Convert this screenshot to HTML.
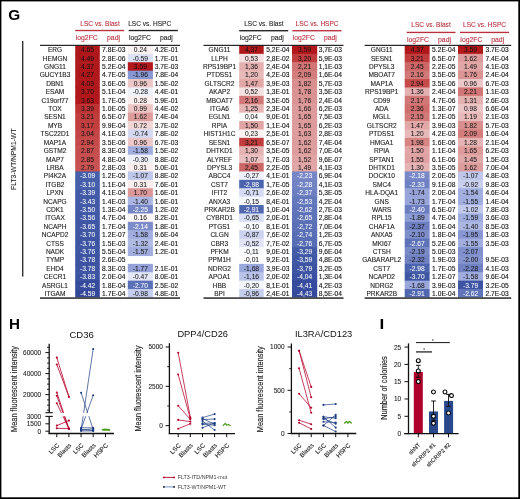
<!DOCTYPE html>
<html><head><meta charset="utf-8"><title>Figure</title>
<style>
html,body{margin:0;padding:0;background:#fff;}
body{width:520px;height:499px;overflow:hidden;font-family:"Liberation Sans", sans-serif;}
svg{display:block;will-change:transform;font-family:"Liberation Sans", sans-serif;}
</style></head>
<body>
<svg width="520" height="499" viewBox="0 0 520 499">
<rect x="0" y="0" width="520" height="499" fill="#fff"/>
<rect x="75.2" y="45.45" width="24.6" height="9" fill="#ae181b"/>
<rect x="127.8" y="45.45" width="25.1" height="9" fill="#faf1f1"/>
<rect x="75.2" y="53.85" width="24.6" height="9" fill="#af181b"/>
<rect x="127.8" y="53.85" width="25.1" height="9" fill="#dce1f4"/>
<rect x="75.2" y="62.25" width="24.6" height="9" fill="#af181b"/>
<rect x="127.8" y="62.25" width="25.1" height="9" fill="#b2181b"/>
<rect x="75.2" y="70.65" width="24.6" height="9" fill="#af181b"/>
<rect x="127.8" y="70.65" width="25.1" height="9" fill="#8797d1"/>
<rect x="75.2" y="79.05" width="24.6" height="9" fill="#b0181b"/>
<rect x="127.8" y="79.05" width="25.1" height="9" fill="#ecc7c7"/>
<rect x="75.2" y="87.45" width="24.6" height="9" fill="#b1181b"/>
<rect x="127.8" y="87.45" width="25.1" height="9" fill="#eef1fa"/>
<rect x="75.2" y="95.85" width="24.6" height="9" fill="#b2181b"/>
<rect x="127.8" y="95.85" width="25.1" height="9" fill="#faefef"/>
<rect x="75.2" y="104.25" width="24.6" height="9" fill="#be3234"/>
<rect x="127.8" y="104.25" width="25.1" height="9" fill="#ecc5c5"/>
<rect x="75.2" y="112.65" width="24.6" height="9" fill="#c13c3d"/>
<rect x="127.8" y="112.65" width="25.1" height="9" fill="#de9d9d"/>
<rect x="75.2" y="121.05" width="24.6" height="9" fill="#c23e3f"/>
<rect x="127.8" y="121.05" width="25.1" height="9" fill="#f1d6d6"/>
<rect x="75.2" y="129.45" width="24.6" height="9" fill="#c44546"/>
<rect x="127.8" y="129.45" width="25.1" height="9" fill="#d3d9f1"/>
<rect x="75.2" y="137.85" width="24.6" height="9" fill="#c64a4a"/>
<rect x="127.8" y="137.85" width="25.1" height="9" fill="#ecc7c7"/>
<rect x="75.2" y="146.25" width="24.6" height="9" fill="#c74e4e"/>
<rect x="127.8" y="146.25" width="25.1" height="9" fill="#a0adde"/>
<rect x="75.2" y="154.65" width="24.6" height="9" fill="#c74f4f"/>
<rect x="127.8" y="154.65" width="25.1" height="9" fill="#edf0f9"/>
<rect x="75.2" y="163.05" width="24.6" height="9" fill="#c85252"/>
<rect x="127.8" y="163.05" width="25.1" height="9" fill="#f9eded"/>
<rect x="75.2" y="171.45" width="24.6" height="9" fill="#465faa"/>
<rect x="127.8" y="171.45" width="25.1" height="9" fill="#bfc8ea"/>
<rect x="75.2" y="179.85" width="24.6" height="9" fill="#465faa"/>
<rect x="127.8" y="179.85" width="25.1" height="9" fill="#f9eded"/>
<rect x="75.2" y="188.25" width="24.6" height="9" fill="#425aa7"/>
<rect x="127.8" y="188.25" width="25.1" height="9" fill="#dc9898"/>
<rect x="75.2" y="196.65" width="24.6" height="9" fill="#425aa6"/>
<rect x="127.8" y="196.65" width="25.1" height="9" fill="#abb6e2"/>
<rect x="75.2" y="205.05" width="24.6" height="9" fill="#4159a6"/>
<rect x="127.8" y="205.05" width="25.1" height="9" fill="#7485c5"/>
<rect x="75.2" y="213.45" width="24.6" height="9" fill="#4058a5"/>
<rect x="127.8" y="213.45" width="25.1" height="9" fill="#fcf6f6"/>
<rect x="75.2" y="221.85" width="24.6" height="9" fill="#3f56a4"/>
<rect x="127.8" y="221.85" width="25.1" height="9" fill="#7c8cca"/>
<rect x="75.2" y="230.25" width="24.6" height="9" fill="#3f56a3"/>
<rect x="127.8" y="230.25" width="25.1" height="9" fill="#a0adde"/>
<rect x="75.2" y="238.65" width="24.6" height="9" fill="#3e55a3"/>
<rect x="127.8" y="238.65" width="25.1" height="9" fill="#b0bbe4"/>
<rect x="75.2" y="247.05" width="24.6" height="9" fill="#3e55a3"/>
<rect x="127.8" y="247.05" width="25.1" height="9" fill="#a0adde"/>
<rect x="75.2" y="255.45" width="24.6" height="9" fill="#3e54a3"/>
<rect x="75.2" y="263.85" width="24.6" height="9" fill="#3e54a3"/>
<rect x="127.8" y="263.85" width="25.1" height="9" fill="#94a2d9"/>
<rect x="75.2" y="272.25" width="24.6" height="9" fill="#3d54a2"/>
<rect x="127.8" y="272.25" width="25.1" height="9" fill="#e3e7f6"/>
<rect x="75.2" y="280.65" width="24.6" height="9" fill="#364b9c"/>
<rect x="127.8" y="280.65" width="25.1" height="9" fill="#5b70b6"/>
<rect x="75.2" y="289.05" width="24.6" height="8.4" fill="#34489a"/>
<rect x="127.8" y="289.05" width="25.1" height="8.4" fill="#c4cded"/>
<text transform="translate(55,52.2) scale(0.96,1)" font-size="6.85" fill="#1e1e1e" text-anchor="middle" stroke="#1e1e1e" stroke-width="0.12">ERG</text>
<text transform="translate(87.5,52.2) scale(0.975,1)" font-size="6.85" fill="#141414" text-anchor="middle" stroke="#141414" stroke-width="0.04">4.65</text>
<text transform="translate(113.8,52.2) scale(0.975,1)" font-size="6.85" fill="#141414" text-anchor="middle" stroke="#141414" stroke-width="0.12">7.8E-03</text>
<text transform="translate(140.35,52.2) scale(0.975,1)" font-size="6.85" fill="#141414" text-anchor="middle" stroke="#141414" stroke-width="0.04">0.24</text>
<text transform="translate(166.45,52.2) scale(0.975,1)" font-size="6.85" fill="#141414" text-anchor="middle" stroke="#141414" stroke-width="0.12">4.2E-01</text>
<text transform="translate(55,60.61) scale(0.96,1)" font-size="6.85" fill="#1e1e1e" text-anchor="middle" stroke="#1e1e1e" stroke-width="0.12">HEMGN</text>
<text transform="translate(87.5,60.61) scale(0.975,1)" font-size="6.85" fill="#141414" text-anchor="middle" stroke="#141414" stroke-width="0.04">4.49</text>
<text transform="translate(113.8,60.61) scale(0.975,1)" font-size="6.85" fill="#141414" text-anchor="middle" stroke="#141414" stroke-width="0.12">2.8E-06</text>
<text transform="translate(140.35,60.61) scale(0.975,1)" font-size="6.85" fill="#141414" text-anchor="middle" stroke="#141414" stroke-width="0.04">-0.59</text>
<text transform="translate(166.45,60.61) scale(0.975,1)" font-size="6.85" fill="#141414" text-anchor="middle" stroke="#141414" stroke-width="0.12">1.7E-01</text>
<text transform="translate(55,69.02) scale(0.96,1)" font-size="6.85" fill="#1e1e1e" text-anchor="middle" stroke="#1e1e1e" stroke-width="0.12">GNG11</text>
<text transform="translate(87.5,69.02) scale(0.975,1)" font-size="6.85" fill="#141414" text-anchor="middle" stroke="#141414" stroke-width="0.04">4.37</text>
<text transform="translate(113.8,69.02) scale(0.975,1)" font-size="6.85" fill="#141414" text-anchor="middle" stroke="#141414" stroke-width="0.12">5.2E-04</text>
<text transform="translate(140.35,69.02) scale(0.975,1)" font-size="6.85" fill="#141414" text-anchor="middle" stroke="#141414" stroke-width="0.04">3.59</text>
<text transform="translate(166.45,69.02) scale(0.975,1)" font-size="6.85" fill="#141414" text-anchor="middle" stroke="#141414" stroke-width="0.12">3.7E-03</text>
<text transform="translate(55,77.43) scale(0.96,1)" font-size="6.85" fill="#1e1e1e" text-anchor="middle" stroke="#1e1e1e" stroke-width="0.12">GUCY1B3</text>
<text transform="translate(87.5,77.43) scale(0.975,1)" font-size="6.85" fill="#141414" text-anchor="middle" stroke="#141414" stroke-width="0.04">4.27</text>
<text transform="translate(113.8,77.43) scale(0.975,1)" font-size="6.85" fill="#141414" text-anchor="middle" stroke="#141414" stroke-width="0.12">4.7E-05</text>
<text transform="translate(140.35,77.43) scale(0.975,1)" font-size="6.85" fill="#141414" text-anchor="middle" stroke="#141414" stroke-width="0.04">-1.96</text>
<text transform="translate(166.45,77.43) scale(0.975,1)" font-size="6.85" fill="#141414" text-anchor="middle" stroke="#141414" stroke-width="0.12">7.8E-04</text>
<text transform="translate(55,85.84) scale(0.96,1)" font-size="6.85" fill="#1e1e1e" text-anchor="middle" stroke="#1e1e1e" stroke-width="0.12">DBN1</text>
<text transform="translate(87.5,85.84) scale(0.975,1)" font-size="6.85" fill="#141414" text-anchor="middle" stroke="#141414" stroke-width="0.04">4.03</text>
<text transform="translate(113.8,85.84) scale(0.975,1)" font-size="6.85" fill="#141414" text-anchor="middle" stroke="#141414" stroke-width="0.12">3.6E-05</text>
<text transform="translate(140.35,85.84) scale(0.975,1)" font-size="6.85" fill="#141414" text-anchor="middle" stroke="#141414" stroke-width="0.04">0.96</text>
<text transform="translate(166.45,85.84) scale(0.975,1)" font-size="6.85" fill="#141414" text-anchor="middle" stroke="#141414" stroke-width="0.12">1.5E-02</text>
<text transform="translate(55,94.25) scale(0.96,1)" font-size="6.85" fill="#1e1e1e" text-anchor="middle" stroke="#1e1e1e" stroke-width="0.12">ESAM</text>
<text transform="translate(87.5,94.25) scale(0.975,1)" font-size="6.85" fill="#141414" text-anchor="middle" stroke="#141414" stroke-width="0.04">3.70</text>
<text transform="translate(113.8,94.25) scale(0.975,1)" font-size="6.85" fill="#141414" text-anchor="middle" stroke="#141414" stroke-width="0.12">5.1E-04</text>
<text transform="translate(140.35,94.25) scale(0.975,1)" font-size="6.85" fill="#141414" text-anchor="middle" stroke="#141414" stroke-width="0.04">-0.28</text>
<text transform="translate(166.45,94.25) scale(0.975,1)" font-size="6.85" fill="#141414" text-anchor="middle" stroke="#141414" stroke-width="0.12">4.4E-01</text>
<text transform="translate(55,102.66) scale(0.96,1)" font-size="6.85" fill="#1e1e1e" text-anchor="middle" stroke="#1e1e1e" stroke-width="0.12">C19orf77</text>
<text transform="translate(87.5,102.66) scale(0.975,1)" font-size="6.85" fill="#141414" text-anchor="middle" stroke="#141414" stroke-width="0.04">3.63</text>
<text transform="translate(113.8,102.66) scale(0.975,1)" font-size="6.85" fill="#141414" text-anchor="middle" stroke="#141414" stroke-width="0.12">1.7E-05</text>
<text transform="translate(140.35,102.66) scale(0.975,1)" font-size="6.85" fill="#141414" text-anchor="middle" stroke="#141414" stroke-width="0.04">0.28</text>
<text transform="translate(166.45,102.66) scale(0.975,1)" font-size="6.85" fill="#141414" text-anchor="middle" stroke="#141414" stroke-width="0.12">5.9E-01</text>
<text transform="translate(55,111.07) scale(0.96,1)" font-size="6.85" fill="#1e1e1e" text-anchor="middle" stroke="#1e1e1e" stroke-width="0.12">TOX</text>
<text transform="translate(87.5,111.07) scale(0.975,1)" font-size="6.85" fill="#141414" text-anchor="middle" stroke="#141414" stroke-width="0.04">3.39</text>
<text transform="translate(113.8,111.07) scale(0.975,1)" font-size="6.85" fill="#141414" text-anchor="middle" stroke="#141414" stroke-width="0.12">1.0E-05</text>
<text transform="translate(140.35,111.07) scale(0.975,1)" font-size="6.85" fill="#141414" text-anchor="middle" stroke="#141414" stroke-width="0.04">0.99</text>
<text transform="translate(166.45,111.07) scale(0.975,1)" font-size="6.85" fill="#141414" text-anchor="middle" stroke="#141414" stroke-width="0.12">4.4E-02</text>
<text transform="translate(55,119.48) scale(0.96,1)" font-size="6.85" fill="#1e1e1e" text-anchor="middle" stroke="#1e1e1e" stroke-width="0.12">SESN1</text>
<text transform="translate(87.5,119.48) scale(0.975,1)" font-size="6.85" fill="#141414" text-anchor="middle" stroke="#141414" stroke-width="0.04">3.21</text>
<text transform="translate(113.8,119.48) scale(0.975,1)" font-size="6.85" fill="#141414" text-anchor="middle" stroke="#141414" stroke-width="0.12">6.5E-07</text>
<text transform="translate(140.35,119.48) scale(0.975,1)" font-size="6.85" fill="#141414" text-anchor="middle" stroke="#141414" stroke-width="0.04">1.62</text>
<text transform="translate(166.45,119.48) scale(0.975,1)" font-size="6.85" fill="#141414" text-anchor="middle" stroke="#141414" stroke-width="0.12">7.4E-04</text>
<text transform="translate(55,127.89) scale(0.96,1)" font-size="6.85" fill="#1e1e1e" text-anchor="middle" stroke="#1e1e1e" stroke-width="0.12">MYB</text>
<text transform="translate(87.5,127.89) scale(0.975,1)" font-size="6.85" fill="#141414" text-anchor="middle" stroke="#141414" stroke-width="0.04">3.17</text>
<text transform="translate(113.8,127.89) scale(0.975,1)" font-size="6.85" fill="#141414" text-anchor="middle" stroke="#141414" stroke-width="0.12">9.9E-04</text>
<text transform="translate(140.35,127.89) scale(0.975,1)" font-size="6.85" fill="#141414" text-anchor="middle" stroke="#141414" stroke-width="0.04">0.72</text>
<text transform="translate(166.45,127.89) scale(0.975,1)" font-size="6.85" fill="#141414" text-anchor="middle" stroke="#141414" stroke-width="0.12">3.7E-02</text>
<text transform="translate(55,136.3) scale(0.96,1)" font-size="6.85" fill="#1e1e1e" text-anchor="middle" stroke="#1e1e1e" stroke-width="0.12">TSC22D1</text>
<text transform="translate(87.5,136.3) scale(0.975,1)" font-size="6.85" fill="#141414" text-anchor="middle" stroke="#141414" stroke-width="0.04">3.04</text>
<text transform="translate(113.8,136.3) scale(0.975,1)" font-size="6.85" fill="#141414" text-anchor="middle" stroke="#141414" stroke-width="0.12">4.1E-03</text>
<text transform="translate(140.35,136.3) scale(0.975,1)" font-size="6.85" fill="#141414" text-anchor="middle" stroke="#141414" stroke-width="0.04">-0.74</text>
<text transform="translate(166.45,136.3) scale(0.975,1)" font-size="6.85" fill="#141414" text-anchor="middle" stroke="#141414" stroke-width="0.12">7.8E-02</text>
<text transform="translate(55,144.71) scale(0.96,1)" font-size="6.85" fill="#1e1e1e" text-anchor="middle" stroke="#1e1e1e" stroke-width="0.12">MAP1A</text>
<text transform="translate(87.5,144.71) scale(0.975,1)" font-size="6.85" fill="#141414" text-anchor="middle" stroke="#141414" stroke-width="0.04">2.94</text>
<text transform="translate(113.8,144.71) scale(0.975,1)" font-size="6.85" fill="#141414" text-anchor="middle" stroke="#141414" stroke-width="0.12">3.5E-06</text>
<text transform="translate(140.35,144.71) scale(0.975,1)" font-size="6.85" fill="#141414" text-anchor="middle" stroke="#141414" stroke-width="0.04">0.96</text>
<text transform="translate(166.45,144.71) scale(0.975,1)" font-size="6.85" fill="#141414" text-anchor="middle" stroke="#141414" stroke-width="0.12">6.7E-03</text>
<text transform="translate(55,153.12) scale(0.96,1)" font-size="6.85" fill="#1e1e1e" text-anchor="middle" stroke="#1e1e1e" stroke-width="0.12">GSTM2</text>
<text transform="translate(87.5,153.12) scale(0.975,1)" font-size="6.85" fill="#141414" text-anchor="middle" stroke="#141414" stroke-width="0.04">2.87</text>
<text transform="translate(113.8,153.12) scale(0.975,1)" font-size="6.85" fill="#141414" text-anchor="middle" stroke="#141414" stroke-width="0.12">8.3E-03</text>
<text transform="translate(140.35,153.12) scale(0.975,1)" font-size="6.85" fill="#141414" text-anchor="middle" stroke="#141414" stroke-width="0.04">-1.58</text>
<text transform="translate(166.45,153.12) scale(0.975,1)" font-size="6.85" fill="#141414" text-anchor="middle" stroke="#141414" stroke-width="0.12">1.5E-02</text>
<text transform="translate(55,161.53) scale(0.96,1)" font-size="6.85" fill="#1e1e1e" text-anchor="middle" stroke="#1e1e1e" stroke-width="0.12">MAP7</text>
<text transform="translate(87.5,161.53) scale(0.975,1)" font-size="6.85" fill="#141414" text-anchor="middle" stroke="#141414" stroke-width="0.04">2.85</text>
<text transform="translate(113.8,161.53) scale(0.975,1)" font-size="6.85" fill="#141414" text-anchor="middle" stroke="#141414" stroke-width="0.12">4.8E-04</text>
<text transform="translate(140.35,161.53) scale(0.975,1)" font-size="6.85" fill="#141414" text-anchor="middle" stroke="#141414" stroke-width="0.04">-0.30</text>
<text transform="translate(166.45,161.53) scale(0.975,1)" font-size="6.85" fill="#141414" text-anchor="middle" stroke="#141414" stroke-width="0.12">8.8E-02</text>
<text transform="translate(55,169.94) scale(0.96,1)" font-size="6.85" fill="#1e1e1e" text-anchor="middle" stroke="#1e1e1e" stroke-width="0.12">LRBA</text>
<text transform="translate(87.5,169.94) scale(0.975,1)" font-size="6.85" fill="#141414" text-anchor="middle" stroke="#141414" stroke-width="0.04">2.79</text>
<text transform="translate(113.8,169.94) scale(0.975,1)" font-size="6.85" fill="#141414" text-anchor="middle" stroke="#141414" stroke-width="0.12">2.8E-03</text>
<text transform="translate(140.35,169.94) scale(0.975,1)" font-size="6.85" fill="#141414" text-anchor="middle" stroke="#141414" stroke-width="0.04">0.31</text>
<text transform="translate(166.45,169.94) scale(0.975,1)" font-size="6.85" fill="#141414" text-anchor="middle" stroke="#141414" stroke-width="0.12">5.0E-01</text>
<text transform="translate(55,178.35) scale(0.96,1)" font-size="6.85" fill="#1e1e1e" text-anchor="middle" stroke="#1e1e1e" stroke-width="0.12">PI4K2A</text>
<text transform="translate(87.5,178.35) scale(0.975,1)" font-size="6.85" fill="#fff" text-anchor="middle" stroke="#fff" stroke-width="0.04">-3.09</text>
<text transform="translate(113.8,178.35) scale(0.975,1)" font-size="6.85" fill="#141414" text-anchor="middle" stroke="#141414" stroke-width="0.12">1.2E-05</text>
<text transform="translate(140.35,178.35) scale(0.975,1)" font-size="6.85" fill="#141414" text-anchor="middle" stroke="#141414" stroke-width="0.04">-1.07</text>
<text transform="translate(166.45,178.35) scale(0.975,1)" font-size="6.85" fill="#141414" text-anchor="middle" stroke="#141414" stroke-width="0.12">8.8E-02</text>
<text transform="translate(55,186.76) scale(0.96,1)" font-size="6.85" fill="#1e1e1e" text-anchor="middle" stroke="#1e1e1e" stroke-width="0.12">ITGB2</text>
<text transform="translate(87.5,186.76) scale(0.975,1)" font-size="6.85" fill="#fff" text-anchor="middle" stroke="#fff" stroke-width="0.04">-3.10</text>
<text transform="translate(113.8,186.76) scale(0.975,1)" font-size="6.85" fill="#141414" text-anchor="middle" stroke="#141414" stroke-width="0.12">1.1E-04</text>
<text transform="translate(140.35,186.76) scale(0.975,1)" font-size="6.85" fill="#141414" text-anchor="middle" stroke="#141414" stroke-width="0.04">0.31</text>
<text transform="translate(166.45,186.76) scale(0.975,1)" font-size="6.85" fill="#141414" text-anchor="middle" stroke="#141414" stroke-width="0.12">7.6E-01</text>
<text transform="translate(55,195.17) scale(0.96,1)" font-size="6.85" fill="#1e1e1e" text-anchor="middle" stroke="#1e1e1e" stroke-width="0.12">LPXN</text>
<text transform="translate(87.5,195.17) scale(0.975,1)" font-size="6.85" fill="#fff" text-anchor="middle" stroke="#fff" stroke-width="0.04">-3.39</text>
<text transform="translate(113.8,195.17) scale(0.975,1)" font-size="6.85" fill="#141414" text-anchor="middle" stroke="#141414" stroke-width="0.12">4.1E-04</text>
<text transform="translate(140.35,195.17) scale(0.975,1)" font-size="6.85" fill="#141414" text-anchor="middle" stroke="#141414" stroke-width="0.04">1.70</text>
<text transform="translate(166.45,195.17) scale(0.975,1)" font-size="6.85" fill="#141414" text-anchor="middle" stroke="#141414" stroke-width="0.12">1.6E-01</text>
<text transform="translate(55,203.58) scale(0.96,1)" font-size="6.85" fill="#1e1e1e" text-anchor="middle" stroke="#1e1e1e" stroke-width="0.12">NCAPG</text>
<text transform="translate(87.5,203.58) scale(0.975,1)" font-size="6.85" fill="#fff" text-anchor="middle" stroke="#fff" stroke-width="0.04">-3.43</text>
<text transform="translate(113.8,203.58) scale(0.975,1)" font-size="6.85" fill="#141414" text-anchor="middle" stroke="#141414" stroke-width="0.12">1.4E-03</text>
<text transform="translate(140.35,203.58) scale(0.975,1)" font-size="6.85" fill="#141414" text-anchor="middle" stroke="#141414" stroke-width="0.04">-1.40</text>
<text transform="translate(166.45,203.58) scale(0.975,1)" font-size="6.85" fill="#141414" text-anchor="middle" stroke="#141414" stroke-width="0.12">1.6E-01</text>
<text transform="translate(55,211.99) scale(0.96,1)" font-size="6.85" fill="#1e1e1e" text-anchor="middle" stroke="#1e1e1e" stroke-width="0.12">CDK1</text>
<text transform="translate(87.5,211.99) scale(0.975,1)" font-size="6.85" fill="#fff" text-anchor="middle" stroke="#fff" stroke-width="0.04">-3.50</text>
<text transform="translate(113.8,211.99) scale(0.975,1)" font-size="6.85" fill="#141414" text-anchor="middle" stroke="#141414" stroke-width="0.12">1.3E-04</text>
<text transform="translate(140.35,211.99) scale(0.975,1)" font-size="6.85" fill="#fff" text-anchor="middle" stroke="#fff" stroke-width="0.04">-2.25</text>
<text transform="translate(166.45,211.99) scale(0.975,1)" font-size="6.85" fill="#141414" text-anchor="middle" stroke="#141414" stroke-width="0.12">1.2E-02</text>
<text transform="translate(55,220.4) scale(0.96,1)" font-size="6.85" fill="#1e1e1e" text-anchor="middle" stroke="#1e1e1e" stroke-width="0.12">ITGAX</text>
<text transform="translate(87.5,220.4) scale(0.975,1)" font-size="6.85" fill="#fff" text-anchor="middle" stroke="#fff" stroke-width="0.04">-3.56</text>
<text transform="translate(113.8,220.4) scale(0.975,1)" font-size="6.85" fill="#141414" text-anchor="middle" stroke="#141414" stroke-width="0.12">4.7E-04</text>
<text transform="translate(140.35,220.4) scale(0.975,1)" font-size="6.85" fill="#141414" text-anchor="middle" stroke="#141414" stroke-width="0.04">0.16</text>
<text transform="translate(166.45,220.4) scale(0.975,1)" font-size="6.85" fill="#141414" text-anchor="middle" stroke="#141414" stroke-width="0.12">8.2E-01</text>
<text transform="translate(55,228.81) scale(0.96,1)" font-size="6.85" fill="#1e1e1e" text-anchor="middle" stroke="#1e1e1e" stroke-width="0.12">NCAPH</text>
<text transform="translate(87.5,228.81) scale(0.975,1)" font-size="6.85" fill="#fff" text-anchor="middle" stroke="#fff" stroke-width="0.04">-3.65</text>
<text transform="translate(113.8,228.81) scale(0.975,1)" font-size="6.85" fill="#141414" text-anchor="middle" stroke="#141414" stroke-width="0.12">1.7E-04</text>
<text transform="translate(140.35,228.81) scale(0.975,1)" font-size="6.85" fill="#fff" text-anchor="middle" stroke="#fff" stroke-width="0.04">-2.14</text>
<text transform="translate(166.45,228.81) scale(0.975,1)" font-size="6.85" fill="#141414" text-anchor="middle" stroke="#141414" stroke-width="0.12">1.8E-01</text>
<text transform="translate(55,237.22) scale(0.96,1)" font-size="6.85" fill="#1e1e1e" text-anchor="middle" stroke="#1e1e1e" stroke-width="0.12">NCAPD2</text>
<text transform="translate(87.5,237.22) scale(0.975,1)" font-size="6.85" fill="#fff" text-anchor="middle" stroke="#fff" stroke-width="0.04">-3.70</text>
<text transform="translate(113.8,237.22) scale(0.975,1)" font-size="6.85" fill="#141414" text-anchor="middle" stroke="#141414" stroke-width="0.12">1.2E-07</text>
<text transform="translate(140.35,237.22) scale(0.975,1)" font-size="6.85" fill="#141414" text-anchor="middle" stroke="#141414" stroke-width="0.04">-1.58</text>
<text transform="translate(166.45,237.22) scale(0.975,1)" font-size="6.85" fill="#141414" text-anchor="middle" stroke="#141414" stroke-width="0.12">9.6E-04</text>
<text transform="translate(55,245.63) scale(0.96,1)" font-size="6.85" fill="#1e1e1e" text-anchor="middle" stroke="#1e1e1e" stroke-width="0.12">CTSS</text>
<text transform="translate(87.5,245.63) scale(0.975,1)" font-size="6.85" fill="#fff" text-anchor="middle" stroke="#fff" stroke-width="0.04">-3.76</text>
<text transform="translate(113.8,245.63) scale(0.975,1)" font-size="6.85" fill="#141414" text-anchor="middle" stroke="#141414" stroke-width="0.12">1.5E-03</text>
<text transform="translate(140.35,245.63) scale(0.975,1)" font-size="6.85" fill="#141414" text-anchor="middle" stroke="#141414" stroke-width="0.04">-1.32</text>
<text transform="translate(166.45,245.63) scale(0.975,1)" font-size="6.85" fill="#141414" text-anchor="middle" stroke="#141414" stroke-width="0.12">2.4E-01</text>
<text transform="translate(55,254.04) scale(0.96,1)" font-size="6.85" fill="#1e1e1e" text-anchor="middle" stroke="#1e1e1e" stroke-width="0.12">NADK</text>
<text transform="translate(87.5,254.04) scale(0.975,1)" font-size="6.85" fill="#fff" text-anchor="middle" stroke="#fff" stroke-width="0.04">-3.76</text>
<text transform="translate(113.8,254.04) scale(0.975,1)" font-size="6.85" fill="#141414" text-anchor="middle" stroke="#141414" stroke-width="0.12">5.5E-04</text>
<text transform="translate(140.35,254.04) scale(0.975,1)" font-size="6.85" fill="#141414" text-anchor="middle" stroke="#141414" stroke-width="0.04">-1.57</text>
<text transform="translate(166.45,254.04) scale(0.975,1)" font-size="6.85" fill="#141414" text-anchor="middle" stroke="#141414" stroke-width="0.12">1.2E-01</text>
<text transform="translate(55,262.45) scale(0.96,1)" font-size="6.85" fill="#1e1e1e" text-anchor="middle" stroke="#1e1e1e" stroke-width="0.12">TYMP</text>
<text transform="translate(87.5,262.45) scale(0.975,1)" font-size="6.85" fill="#fff" text-anchor="middle" stroke="#fff" stroke-width="0.04">-3.78</text>
<text transform="translate(113.8,262.45) scale(0.975,1)" font-size="6.85" fill="#141414" text-anchor="middle" stroke="#141414" stroke-width="0.12">2.6E-05</text>
<text transform="translate(55,270.86) scale(0.96,1)" font-size="6.85" fill="#1e1e1e" text-anchor="middle" stroke="#1e1e1e" stroke-width="0.12">EHD4</text>
<text transform="translate(87.5,270.86) scale(0.975,1)" font-size="6.85" fill="#fff" text-anchor="middle" stroke="#fff" stroke-width="0.04">-3.78</text>
<text transform="translate(113.8,270.86) scale(0.975,1)" font-size="6.85" fill="#141414" text-anchor="middle" stroke="#141414" stroke-width="0.12">8.3E-03</text>
<text transform="translate(140.35,270.86) scale(0.975,1)" font-size="6.85" fill="#141414" text-anchor="middle" stroke="#141414" stroke-width="0.04">-1.77</text>
<text transform="translate(166.45,270.86) scale(0.975,1)" font-size="6.85" fill="#141414" text-anchor="middle" stroke="#141414" stroke-width="0.12">2.1E-01</text>
<text transform="translate(55,279.27) scale(0.96,1)" font-size="6.85" fill="#1e1e1e" text-anchor="middle" stroke="#1e1e1e" stroke-width="0.12">CECR1</text>
<text transform="translate(87.5,279.27) scale(0.975,1)" font-size="6.85" fill="#fff" text-anchor="middle" stroke="#fff" stroke-width="0.04">-3.83</text>
<text transform="translate(113.8,279.27) scale(0.975,1)" font-size="6.85" fill="#141414" text-anchor="middle" stroke="#141414" stroke-width="0.12">2.0E-04</text>
<text transform="translate(140.35,279.27) scale(0.975,1)" font-size="6.85" fill="#141414" text-anchor="middle" stroke="#141414" stroke-width="0.04">-0.47</text>
<text transform="translate(166.45,279.27) scale(0.975,1)" font-size="6.85" fill="#141414" text-anchor="middle" stroke="#141414" stroke-width="0.12">8.0E-01</text>
<text transform="translate(55,287.68) scale(0.96,1)" font-size="6.85" fill="#1e1e1e" text-anchor="middle" stroke="#1e1e1e" stroke-width="0.12">ASRGL1</text>
<text transform="translate(87.5,287.68) scale(0.975,1)" font-size="6.85" fill="#fff" text-anchor="middle" stroke="#fff" stroke-width="0.04">-4.42</text>
<text transform="translate(113.8,287.68) scale(0.975,1)" font-size="6.85" fill="#141414" text-anchor="middle" stroke="#141414" stroke-width="0.12">1.8E-04</text>
<text transform="translate(140.35,287.68) scale(0.975,1)" font-size="6.85" fill="#fff" text-anchor="middle" stroke="#fff" stroke-width="0.04">-2.70</text>
<text transform="translate(166.45,287.68) scale(0.975,1)" font-size="6.85" fill="#141414" text-anchor="middle" stroke="#141414" stroke-width="0.12">2.5E-02</text>
<text transform="translate(55,296.09) scale(0.96,1)" font-size="6.85" fill="#1e1e1e" text-anchor="middle" stroke="#1e1e1e" stroke-width="0.12">ITGAM</text>
<text transform="translate(87.5,296.09) scale(0.975,1)" font-size="6.85" fill="#fff" text-anchor="middle" stroke="#fff" stroke-width="0.04">-4.59</text>
<text transform="translate(113.8,296.09) scale(0.975,1)" font-size="6.85" fill="#141414" text-anchor="middle" stroke="#141414" stroke-width="0.12">1.7E-04</text>
<text transform="translate(140.35,296.09) scale(0.975,1)" font-size="6.85" fill="#141414" text-anchor="middle" stroke="#141414" stroke-width="0.04">-0.98</text>
<text transform="translate(166.45,296.09) scale(0.975,1)" font-size="6.85" fill="#141414" text-anchor="middle" stroke="#141414" stroke-width="0.12">4.8E-01</text>
<rect x="40" y="44.8" width="140" height="1.1" fill="#111"/>
<rect x="40" y="297.35" width="140" height="1.45" fill="#222"/>
<rect x="239.2" y="45.45" width="24.5" height="9" fill="#af181b"/>
<rect x="292" y="45.45" width="25.2" height="9" fill="#b2181b"/>
<rect x="239.2" y="53.85" width="24.5" height="9" fill="#f5e1e1"/>
<rect x="292" y="53.85" width="25.2" height="9" fill="#c13c3e"/>
<rect x="239.2" y="62.25" width="24.5" height="9" fill="#e4afaf"/>
<rect x="292" y="62.25" width="25.2" height="9" fill="#d17575"/>
<rect x="239.2" y="70.65" width="24.5" height="9" fill="#e7b9b9"/>
<rect x="292" y="70.65" width="25.2" height="9" fill="#d47d7d"/>
<rect x="239.2" y="79.05" width="24.5" height="9" fill="#e2a7a7"/>
<rect x="292" y="79.05" width="25.2" height="9" fill="#da8f8f"/>
<rect x="239.2" y="87.45" width="24.5" height="9" fill="#f5e2e2"/>
<rect x="292" y="87.45" width="25.2" height="9" fill="#db9292"/>
<rect x="239.2" y="95.85" width="24.5" height="9" fill="#d27878"/>
<rect x="292" y="95.85" width="25.2" height="9" fill="#db9494"/>
<rect x="239.2" y="104.25" width="24.5" height="9" fill="#e6b6b6"/>
<rect x="292" y="104.25" width="25.2" height="9" fill="#dd9a9a"/>
<rect x="239.2" y="112.65" width="24.5" height="9" fill="#fefdfd"/>
<rect x="292" y="112.65" width="25.2" height="9" fill="#dd9b9b"/>
<rect x="239.2" y="121.05" width="24.5" height="9" fill="#e1a5a5"/>
<rect x="292" y="121.05" width="25.2" height="9" fill="#dd9b9b"/>
<rect x="239.2" y="129.45" width="24.5" height="9" fill="#fbf2f2"/>
<rect x="292" y="129.45" width="25.2" height="9" fill="#de9c9c"/>
<rect x="239.2" y="137.85" width="24.5" height="9" fill="#c13c3d"/>
<rect x="292" y="137.85" width="25.2" height="9" fill="#de9d9d"/>
<rect x="239.2" y="146.25" width="24.5" height="9" fill="#e5b3b3"/>
<rect x="292" y="146.25" width="25.2" height="9" fill="#de9d9d"/>
<rect x="239.2" y="154.65" width="24.5" height="9" fill="#eac0c0"/>
<rect x="292" y="154.65" width="25.2" height="9" fill="#e0a4a4"/>
<rect x="239.2" y="163.05" width="24.5" height="9" fill="#cd6767"/>
<rect x="292" y="163.05" width="25.2" height="9" fill="#e1a6a6"/>
<rect x="239.2" y="171.45" width="24.5" height="9" fill="#eff1fa"/>
<rect x="292" y="171.45" width="25.2" height="9" fill="#7686c6"/>
<rect x="239.2" y="179.85" width="24.5" height="9" fill="#4c64ad"/>
<rect x="292" y="179.85" width="25.2" height="9" fill="#7283c4"/>
<rect x="239.2" y="188.25" width="24.5" height="9" fill="#d5dbf2"/>
<rect x="292" y="188.25" width="25.2" height="9" fill="#6d7fc1"/>
<rect x="239.2" y="196.65" width="24.5" height="9" fill="#f6f7fc"/>
<rect x="292" y="196.65" width="25.2" height="9" fill="#6478bc"/>
<rect x="239.2" y="205.05" width="24.5" height="9" fill="#5067b0"/>
<rect x="292" y="205.05" width="25.2" height="9" fill="#6074b9"/>
<rect x="239.2" y="213.45" width="24.5" height="9" fill="#d8def3"/>
<rect x="292" y="213.45" width="25.2" height="9" fill="#5e72b8"/>
<rect x="239.2" y="221.85" width="24.5" height="9" fill="#f9fafd"/>
<rect x="292" y="221.85" width="25.2" height="9" fill="#5a6fb6"/>
<rect x="239.2" y="230.25" width="24.5" height="9" fill="#cbd3ef"/>
<rect x="292" y="230.25" width="25.2" height="9" fill="#596fb5"/>
<rect x="239.2" y="238.65" width="24.5" height="9" fill="#e0e4f5"/>
<rect x="292" y="238.65" width="25.2" height="9" fill="#586eb4"/>
<rect x="239.2" y="247.05" width="24.5" height="9" fill="#f8f9fd"/>
<rect x="292" y="247.05" width="25.2" height="9" fill="#445ca8"/>
<rect x="239.2" y="255.45" width="24.5" height="9" fill="#fefeff"/>
<rect x="292" y="255.45" width="25.2" height="9" fill="#4057a5"/>
<rect x="239.2" y="263.85" width="24.5" height="9" fill="#9aa7db"/>
<rect x="292" y="263.85" width="25.2" height="9" fill="#3e54a3"/>
<rect x="239.2" y="272.25" width="24.5" height="9" fill="#b9c3e8"/>
<rect x="292" y="272.25" width="25.2" height="9" fill="#3b50a0"/>
<rect x="239.2" y="280.65" width="24.5" height="9" fill="#f3f5fb"/>
<rect x="292" y="280.65" width="25.2" height="9" fill="#364b9c"/>
<rect x="239.2" y="289.05" width="24.5" height="8.4" fill="#c6ceed"/>
<rect x="292" y="289.05" width="25.2" height="8.4" fill="#364a9c"/>
<text transform="translate(219.5,52.2) scale(0.96,1)" font-size="6.85" fill="#1e1e1e" text-anchor="middle" stroke="#1e1e1e" stroke-width="0.12">GNG11</text>
<text transform="translate(251.45,52.2) scale(0.975,1)" font-size="6.85" fill="#141414" text-anchor="middle" stroke="#141414" stroke-width="0.04">4,37</text>
<text transform="translate(277.85,52.2) scale(0.975,1)" font-size="6.85" fill="#141414" text-anchor="middle" stroke="#141414" stroke-width="0.12">5,2E-04</text>
<text transform="translate(304.6,52.2) scale(0.975,1)" font-size="6.85" fill="#141414" text-anchor="middle" stroke="#141414" stroke-width="0.04">3,59</text>
<text transform="translate(330.35,52.2) scale(0.975,1)" font-size="6.85" fill="#141414" text-anchor="middle" stroke="#141414" stroke-width="0.12">3,7E-03</text>
<text transform="translate(219.5,60.61) scale(0.96,1)" font-size="6.85" fill="#1e1e1e" text-anchor="middle" stroke="#1e1e1e" stroke-width="0.12">LLPH</text>
<text transform="translate(251.45,60.61) scale(0.975,1)" font-size="6.85" fill="#141414" text-anchor="middle" stroke="#141414" stroke-width="0.04">0,53</text>
<text transform="translate(277.85,60.61) scale(0.975,1)" font-size="6.85" fill="#141414" text-anchor="middle" stroke="#141414" stroke-width="0.12">2,8E-02</text>
<text transform="translate(304.6,60.61) scale(0.975,1)" font-size="6.85" fill="#141414" text-anchor="middle" stroke="#141414" stroke-width="0.04">3,20</text>
<text transform="translate(330.35,60.61) scale(0.975,1)" font-size="6.85" fill="#141414" text-anchor="middle" stroke="#141414" stroke-width="0.12">5,9E-03</text>
<text transform="translate(219.5,69.02) scale(0.96,1)" font-size="6.85" fill="#1e1e1e" text-anchor="middle" stroke="#1e1e1e" stroke-width="0.12">RPS19BP1</text>
<text transform="translate(251.45,69.02) scale(0.975,1)" font-size="6.85" fill="#141414" text-anchor="middle" stroke="#141414" stroke-width="0.04">1,36</text>
<text transform="translate(277.85,69.02) scale(0.975,1)" font-size="6.85" fill="#141414" text-anchor="middle" stroke="#141414" stroke-width="0.12">2,4E-04</text>
<text transform="translate(304.6,69.02) scale(0.975,1)" font-size="6.85" fill="#141414" text-anchor="middle" stroke="#141414" stroke-width="0.04">2,21</text>
<text transform="translate(330.35,69.02) scale(0.975,1)" font-size="6.85" fill="#141414" text-anchor="middle" stroke="#141414" stroke-width="0.12">1,1E-03</text>
<text transform="translate(219.5,77.43) scale(0.96,1)" font-size="6.85" fill="#1e1e1e" text-anchor="middle" stroke="#1e1e1e" stroke-width="0.12">PTDSS1</text>
<text transform="translate(251.45,77.43) scale(0.975,1)" font-size="6.85" fill="#141414" text-anchor="middle" stroke="#141414" stroke-width="0.04">1,20</text>
<text transform="translate(277.85,77.43) scale(0.975,1)" font-size="6.85" fill="#141414" text-anchor="middle" stroke="#141414" stroke-width="0.12">4,2E-03</text>
<text transform="translate(304.6,77.43) scale(0.975,1)" font-size="6.85" fill="#141414" text-anchor="middle" stroke="#141414" stroke-width="0.04">2,09</text>
<text transform="translate(330.35,77.43) scale(0.975,1)" font-size="6.85" fill="#141414" text-anchor="middle" stroke="#141414" stroke-width="0.12">1,6E-04</text>
<text transform="translate(219.5,85.84) scale(0.96,1)" font-size="6.85" fill="#1e1e1e" text-anchor="middle" stroke="#1e1e1e" stroke-width="0.12">GLTSCR2</text>
<text transform="translate(251.45,85.84) scale(0.975,1)" font-size="6.85" fill="#141414" text-anchor="middle" stroke="#141414" stroke-width="0.04">1,47</text>
<text transform="translate(277.85,85.84) scale(0.975,1)" font-size="6.85" fill="#141414" text-anchor="middle" stroke="#141414" stroke-width="0.12">3,9E-03</text>
<text transform="translate(304.6,85.84) scale(0.975,1)" font-size="6.85" fill="#141414" text-anchor="middle" stroke="#141414" stroke-width="0.04">1,82</text>
<text transform="translate(330.35,85.84) scale(0.975,1)" font-size="6.85" fill="#141414" text-anchor="middle" stroke="#141414" stroke-width="0.12">5,7E-03</text>
<text transform="translate(219.5,94.25) scale(0.96,1)" font-size="6.85" fill="#1e1e1e" text-anchor="middle" stroke="#1e1e1e" stroke-width="0.12">AKAP2</text>
<text transform="translate(251.45,94.25) scale(0.975,1)" font-size="6.85" fill="#141414" text-anchor="middle" stroke="#141414" stroke-width="0.04">0,52</text>
<text transform="translate(277.85,94.25) scale(0.975,1)" font-size="6.85" fill="#141414" text-anchor="middle" stroke="#141414" stroke-width="0.12">1,3E-01</text>
<text transform="translate(304.6,94.25) scale(0.975,1)" font-size="6.85" fill="#141414" text-anchor="middle" stroke="#141414" stroke-width="0.04">1,78</text>
<text transform="translate(330.35,94.25) scale(0.975,1)" font-size="6.85" fill="#141414" text-anchor="middle" stroke="#141414" stroke-width="0.12">3,5E-03</text>
<text transform="translate(219.5,102.66) scale(0.96,1)" font-size="6.85" fill="#1e1e1e" text-anchor="middle" stroke="#1e1e1e" stroke-width="0.12">MBOAT7</text>
<text transform="translate(251.45,102.66) scale(0.975,1)" font-size="6.85" fill="#141414" text-anchor="middle" stroke="#141414" stroke-width="0.04">2,16</text>
<text transform="translate(277.85,102.66) scale(0.975,1)" font-size="6.85" fill="#141414" text-anchor="middle" stroke="#141414" stroke-width="0.12">3,5E-05</text>
<text transform="translate(304.6,102.66) scale(0.975,1)" font-size="6.85" fill="#141414" text-anchor="middle" stroke="#141414" stroke-width="0.04">1,76</text>
<text transform="translate(330.35,102.66) scale(0.975,1)" font-size="6.85" fill="#141414" text-anchor="middle" stroke="#141414" stroke-width="0.12">2,4E-04</text>
<text transform="translate(219.5,111.07) scale(0.96,1)" font-size="6.85" fill="#1e1e1e" text-anchor="middle" stroke="#1e1e1e" stroke-width="0.12">ITGA6</text>
<text transform="translate(251.45,111.07) scale(0.975,1)" font-size="6.85" fill="#141414" text-anchor="middle" stroke="#141414" stroke-width="0.04">1,25</text>
<text transform="translate(277.85,111.07) scale(0.975,1)" font-size="6.85" fill="#141414" text-anchor="middle" stroke="#141414" stroke-width="0.12">2,3E-04</text>
<text transform="translate(304.6,111.07) scale(0.975,1)" font-size="6.85" fill="#141414" text-anchor="middle" stroke="#141414" stroke-width="0.04">1,66</text>
<text transform="translate(330.35,111.07) scale(0.975,1)" font-size="6.85" fill="#141414" text-anchor="middle" stroke="#141414" stroke-width="0.12">6,2E-03</text>
<text transform="translate(219.5,119.48) scale(0.96,1)" font-size="6.85" fill="#1e1e1e" text-anchor="middle" stroke="#1e1e1e" stroke-width="0.12">EGLN1</text>
<text transform="translate(251.45,119.48) scale(0.975,1)" font-size="6.85" fill="#141414" text-anchor="middle" stroke="#141414" stroke-width="0.04">0,04</text>
<text transform="translate(277.85,119.48) scale(0.975,1)" font-size="6.85" fill="#141414" text-anchor="middle" stroke="#141414" stroke-width="0.12">9,0E-01</text>
<text transform="translate(304.6,119.48) scale(0.975,1)" font-size="6.85" fill="#141414" text-anchor="middle" stroke="#141414" stroke-width="0.04">1,65</text>
<text transform="translate(330.35,119.48) scale(0.975,1)" font-size="6.85" fill="#141414" text-anchor="middle" stroke="#141414" stroke-width="0.12">7,5E-03</text>
<text transform="translate(219.5,127.89) scale(0.96,1)" font-size="6.85" fill="#1e1e1e" text-anchor="middle" stroke="#1e1e1e" stroke-width="0.12">RPIA</text>
<text transform="translate(251.45,127.89) scale(0.975,1)" font-size="6.85" fill="#141414" text-anchor="middle" stroke="#141414" stroke-width="0.04">1,50</text>
<text transform="translate(277.85,127.89) scale(0.975,1)" font-size="6.85" fill="#141414" text-anchor="middle" stroke="#141414" stroke-width="0.12">1,1E-04</text>
<text transform="translate(304.6,127.89) scale(0.975,1)" font-size="6.85" fill="#141414" text-anchor="middle" stroke="#141414" stroke-width="0.04">1,65</text>
<text transform="translate(330.35,127.89) scale(0.975,1)" font-size="6.85" fill="#141414" text-anchor="middle" stroke="#141414" stroke-width="0.12">6,2E-03</text>
<text transform="translate(219.5,136.3) scale(0.96,1)" font-size="6.85" fill="#1e1e1e" text-anchor="middle" stroke="#1e1e1e" stroke-width="0.12">HIST1H1C</text>
<text transform="translate(251.45,136.3) scale(0.975,1)" font-size="6.85" fill="#141414" text-anchor="middle" stroke="#141414" stroke-width="0.04">0,23</text>
<text transform="translate(277.85,136.3) scale(0.975,1)" font-size="6.85" fill="#141414" text-anchor="middle" stroke="#141414" stroke-width="0.12">2,5E-01</text>
<text transform="translate(304.6,136.3) scale(0.975,1)" font-size="6.85" fill="#141414" text-anchor="middle" stroke="#141414" stroke-width="0.04">1,63</text>
<text transform="translate(330.35,136.3) scale(0.975,1)" font-size="6.85" fill="#141414" text-anchor="middle" stroke="#141414" stroke-width="0.12">2,8E-03</text>
<text transform="translate(219.5,144.71) scale(0.96,1)" font-size="6.85" fill="#1e1e1e" text-anchor="middle" stroke="#1e1e1e" stroke-width="0.12">SESN1</text>
<text transform="translate(251.45,144.71) scale(0.975,1)" font-size="6.85" fill="#141414" text-anchor="middle" stroke="#141414" stroke-width="0.04">3,21</text>
<text transform="translate(277.85,144.71) scale(0.975,1)" font-size="6.85" fill="#141414" text-anchor="middle" stroke="#141414" stroke-width="0.12">6,5E-07</text>
<text transform="translate(304.6,144.71) scale(0.975,1)" font-size="6.85" fill="#141414" text-anchor="middle" stroke="#141414" stroke-width="0.04">1,62</text>
<text transform="translate(330.35,144.71) scale(0.975,1)" font-size="6.85" fill="#141414" text-anchor="middle" stroke="#141414" stroke-width="0.12">7,4E-04</text>
<text transform="translate(219.5,153.12) scale(0.96,1)" font-size="6.85" fill="#1e1e1e" text-anchor="middle" stroke="#1e1e1e" stroke-width="0.12">DHTKD1</text>
<text transform="translate(251.45,153.12) scale(0.975,1)" font-size="6.85" fill="#141414" text-anchor="middle" stroke="#141414" stroke-width="0.04">1,30</text>
<text transform="translate(277.85,153.12) scale(0.975,1)" font-size="6.85" fill="#141414" text-anchor="middle" stroke="#141414" stroke-width="0.12">3,5E-05</text>
<text transform="translate(304.6,153.12) scale(0.975,1)" font-size="6.85" fill="#141414" text-anchor="middle" stroke="#141414" stroke-width="0.04">1,62</text>
<text transform="translate(330.35,153.12) scale(0.975,1)" font-size="6.85" fill="#141414" text-anchor="middle" stroke="#141414" stroke-width="0.12">7,0E-04</text>
<text transform="translate(219.5,161.53) scale(0.96,1)" font-size="6.85" fill="#1e1e1e" text-anchor="middle" stroke="#1e1e1e" stroke-width="0.12">ALYREF</text>
<text transform="translate(251.45,161.53) scale(0.975,1)" font-size="6.85" fill="#141414" text-anchor="middle" stroke="#141414" stroke-width="0.04">1,07</text>
<text transform="translate(277.85,161.53) scale(0.975,1)" font-size="6.85" fill="#141414" text-anchor="middle" stroke="#141414" stroke-width="0.12">1,7E-03</text>
<text transform="translate(304.6,161.53) scale(0.975,1)" font-size="6.85" fill="#141414" text-anchor="middle" stroke="#141414" stroke-width="0.04">1,52</text>
<text transform="translate(330.35,161.53) scale(0.975,1)" font-size="6.85" fill="#141414" text-anchor="middle" stroke="#141414" stroke-width="0.12">9,6E-07</text>
<text transform="translate(219.5,169.94) scale(0.96,1)" font-size="6.85" fill="#1e1e1e" text-anchor="middle" stroke="#1e1e1e" stroke-width="0.12">DPYSL3</text>
<text transform="translate(251.45,169.94) scale(0.975,1)" font-size="6.85" fill="#141414" text-anchor="middle" stroke="#141414" stroke-width="0.04">2,45</text>
<text transform="translate(277.85,169.94) scale(0.975,1)" font-size="6.85" fill="#141414" text-anchor="middle" stroke="#141414" stroke-width="0.12">2,2E-05</text>
<text transform="translate(304.6,169.94) scale(0.975,1)" font-size="6.85" fill="#141414" text-anchor="middle" stroke="#141414" stroke-width="0.04">1,49</text>
<text transform="translate(330.35,169.94) scale(0.975,1)" font-size="6.85" fill="#141414" text-anchor="middle" stroke="#141414" stroke-width="0.12">4,1E-03</text>
<text transform="translate(219.5,178.35) scale(0.96,1)" font-size="6.85" fill="#1e1e1e" text-anchor="middle" stroke="#1e1e1e" stroke-width="0.12">ABCC4</text>
<text transform="translate(251.45,178.35) scale(0.975,1)" font-size="6.85" fill="#141414" text-anchor="middle" stroke="#141414" stroke-width="0.04">-0,27</text>
<text transform="translate(277.85,178.35) scale(0.975,1)" font-size="6.85" fill="#141414" text-anchor="middle" stroke="#141414" stroke-width="0.12">4,1E-01</text>
<text transform="translate(304.6,178.35) scale(0.975,1)" font-size="6.85" fill="#fff" text-anchor="middle" stroke="#fff" stroke-width="0.04">-2,23</text>
<text transform="translate(330.35,178.35) scale(0.975,1)" font-size="6.85" fill="#141414" text-anchor="middle" stroke="#141414" stroke-width="0.12">6,9E-04</text>
<text transform="translate(219.5,186.76) scale(0.96,1)" font-size="6.85" fill="#1e1e1e" text-anchor="middle" stroke="#1e1e1e" stroke-width="0.12">CST7</text>
<text transform="translate(251.45,186.76) scale(0.975,1)" font-size="6.85" fill="#fff" text-anchor="middle" stroke="#fff" stroke-width="0.04">-2,98</text>
<text transform="translate(277.85,186.76) scale(0.975,1)" font-size="6.85" fill="#141414" text-anchor="middle" stroke="#141414" stroke-width="0.12">1,7E-05</text>
<text transform="translate(304.6,186.76) scale(0.975,1)" font-size="6.85" fill="#fff" text-anchor="middle" stroke="#fff" stroke-width="0.04">-2,28</text>
<text transform="translate(330.35,186.76) scale(0.975,1)" font-size="6.85" fill="#141414" text-anchor="middle" stroke="#141414" stroke-width="0.12">4,1E-03</text>
<text transform="translate(219.5,195.17) scale(0.96,1)" font-size="6.85" fill="#1e1e1e" text-anchor="middle" stroke="#1e1e1e" stroke-width="0.12">IFIT2</text>
<text transform="translate(251.45,195.17) scale(0.975,1)" font-size="6.85" fill="#141414" text-anchor="middle" stroke="#141414" stroke-width="0.04">-0,71</text>
<text transform="translate(277.85,195.17) scale(0.975,1)" font-size="6.85" fill="#141414" text-anchor="middle" stroke="#141414" stroke-width="0.12">2,6E-02</text>
<text transform="translate(304.6,195.17) scale(0.975,1)" font-size="6.85" fill="#fff" text-anchor="middle" stroke="#fff" stroke-width="0.04">-2,37</text>
<text transform="translate(330.35,195.17) scale(0.975,1)" font-size="6.85" fill="#141414" text-anchor="middle" stroke="#141414" stroke-width="0.12">5,3E-05</text>
<text transform="translate(219.5,203.58) scale(0.96,1)" font-size="6.85" fill="#1e1e1e" text-anchor="middle" stroke="#1e1e1e" stroke-width="0.12">ANXA3</text>
<text transform="translate(251.45,203.58) scale(0.975,1)" font-size="6.85" fill="#141414" text-anchor="middle" stroke="#141414" stroke-width="0.04">-0,15</text>
<text transform="translate(277.85,203.58) scale(0.975,1)" font-size="6.85" fill="#141414" text-anchor="middle" stroke="#141414" stroke-width="0.12">8,4E-01</text>
<text transform="translate(304.6,203.58) scale(0.975,1)" font-size="6.85" fill="#fff" text-anchor="middle" stroke="#fff" stroke-width="0.04">-2,53</text>
<text transform="translate(330.35,203.58) scale(0.975,1)" font-size="6.85" fill="#141414" text-anchor="middle" stroke="#141414" stroke-width="0.12">4,2E-04</text>
<text transform="translate(219.5,211.99) scale(0.96,1)" font-size="6.85" fill="#1e1e1e" text-anchor="middle" stroke="#1e1e1e" stroke-width="0.12">PRKAR2B</text>
<text transform="translate(251.45,211.99) scale(0.975,1)" font-size="6.85" fill="#fff" text-anchor="middle" stroke="#fff" stroke-width="0.04">-2,91</text>
<text transform="translate(277.85,211.99) scale(0.975,1)" font-size="6.85" fill="#141414" text-anchor="middle" stroke="#141414" stroke-width="0.12">1,0E-04</text>
<text transform="translate(304.6,211.99) scale(0.975,1)" font-size="6.85" fill="#fff" text-anchor="middle" stroke="#fff" stroke-width="0.04">-2,62</text>
<text transform="translate(330.35,211.99) scale(0.975,1)" font-size="6.85" fill="#141414" text-anchor="middle" stroke="#141414" stroke-width="0.12">2,7E-03</text>
<text transform="translate(219.5,220.4) scale(0.96,1)" font-size="6.85" fill="#1e1e1e" text-anchor="middle" stroke="#1e1e1e" stroke-width="0.12">CYBRD1</text>
<text transform="translate(251.45,220.4) scale(0.975,1)" font-size="6.85" fill="#141414" text-anchor="middle" stroke="#141414" stroke-width="0.04">-0,65</text>
<text transform="translate(277.85,220.4) scale(0.975,1)" font-size="6.85" fill="#141414" text-anchor="middle" stroke="#141414" stroke-width="0.12">2,0E-01</text>
<text transform="translate(304.6,220.4) scale(0.975,1)" font-size="6.85" fill="#fff" text-anchor="middle" stroke="#fff" stroke-width="0.04">-2,65</text>
<text transform="translate(330.35,220.4) scale(0.975,1)" font-size="6.85" fill="#141414" text-anchor="middle" stroke="#141414" stroke-width="0.12">2,8E-04</text>
<text transform="translate(219.5,228.81) scale(0.96,1)" font-size="6.85" fill="#1e1e1e" text-anchor="middle" stroke="#1e1e1e" stroke-width="0.12">PTGS1</text>
<text transform="translate(251.45,228.81) scale(0.975,1)" font-size="6.85" fill="#141414" text-anchor="middle" stroke="#141414" stroke-width="0.04">-0,10</text>
<text transform="translate(277.85,228.81) scale(0.975,1)" font-size="6.85" fill="#141414" text-anchor="middle" stroke="#141414" stroke-width="0.12">8,1E-01</text>
<text transform="translate(304.6,228.81) scale(0.975,1)" font-size="6.85" fill="#fff" text-anchor="middle" stroke="#fff" stroke-width="0.04">-2,72</text>
<text transform="translate(330.35,228.81) scale(0.975,1)" font-size="6.85" fill="#141414" text-anchor="middle" stroke="#141414" stroke-width="0.12">7,0E-04</text>
<text transform="translate(219.5,237.22) scale(0.96,1)" font-size="6.85" fill="#1e1e1e" text-anchor="middle" stroke="#1e1e1e" stroke-width="0.12">CLGN</text>
<text transform="translate(251.45,237.22) scale(0.975,1)" font-size="6.85" fill="#141414" text-anchor="middle" stroke="#141414" stroke-width="0.04">-0,87</text>
<text transform="translate(277.85,237.22) scale(0.975,1)" font-size="6.85" fill="#141414" text-anchor="middle" stroke="#141414" stroke-width="0.12">7,6E-02</text>
<text transform="translate(304.6,237.22) scale(0.975,1)" font-size="6.85" fill="#fff" text-anchor="middle" stroke="#fff" stroke-width="0.04">-2,74</text>
<text transform="translate(330.35,237.22) scale(0.975,1)" font-size="6.85" fill="#141414" text-anchor="middle" stroke="#141414" stroke-width="0.12">1,2E-03</text>
<text transform="translate(219.5,245.63) scale(0.96,1)" font-size="6.85" fill="#1e1e1e" text-anchor="middle" stroke="#1e1e1e" stroke-width="0.12">CBR3</text>
<text transform="translate(251.45,245.63) scale(0.975,1)" font-size="6.85" fill="#141414" text-anchor="middle" stroke="#141414" stroke-width="0.04">-0,52</text>
<text transform="translate(277.85,245.63) scale(0.975,1)" font-size="6.85" fill="#141414" text-anchor="middle" stroke="#141414" stroke-width="0.12">7,7E-02</text>
<text transform="translate(304.6,245.63) scale(0.975,1)" font-size="6.85" fill="#fff" text-anchor="middle" stroke="#fff" stroke-width="0.04">-2,76</text>
<text transform="translate(330.35,245.63) scale(0.975,1)" font-size="6.85" fill="#141414" text-anchor="middle" stroke="#141414" stroke-width="0.12">6,7E-05</text>
<text transform="translate(219.5,254.04) scale(0.96,1)" font-size="6.85" fill="#1e1e1e" text-anchor="middle" stroke="#1e1e1e" stroke-width="0.12">PFKM</text>
<text transform="translate(251.45,254.04) scale(0.975,1)" font-size="6.85" fill="#141414" text-anchor="middle" stroke="#141414" stroke-width="0.04">-0,11</text>
<text transform="translate(277.85,254.04) scale(0.975,1)" font-size="6.85" fill="#141414" text-anchor="middle" stroke="#141414" stroke-width="0.12">9,0E-01</text>
<text transform="translate(304.6,254.04) scale(0.975,1)" font-size="6.85" fill="#fff" text-anchor="middle" stroke="#fff" stroke-width="0.04">-3,29</text>
<text transform="translate(330.35,254.04) scale(0.975,1)" font-size="6.85" fill="#141414" text-anchor="middle" stroke="#141414" stroke-width="0.12">9,6E-04</text>
<text transform="translate(219.5,262.45) scale(0.96,1)" font-size="6.85" fill="#1e1e1e" text-anchor="middle" stroke="#1e1e1e" stroke-width="0.12">PPM1H</text>
<text transform="translate(251.45,262.45) scale(0.975,1)" font-size="6.85" fill="#141414" text-anchor="middle" stroke="#141414" stroke-width="0.04">-0,01</text>
<text transform="translate(277.85,262.45) scale(0.975,1)" font-size="6.85" fill="#141414" text-anchor="middle" stroke="#141414" stroke-width="0.12">9,2E-01</text>
<text transform="translate(304.6,262.45) scale(0.975,1)" font-size="6.85" fill="#fff" text-anchor="middle" stroke="#fff" stroke-width="0.04">-3,59</text>
<text transform="translate(330.35,262.45) scale(0.975,1)" font-size="6.85" fill="#141414" text-anchor="middle" stroke="#141414" stroke-width="0.12">4,8E-05</text>
<text transform="translate(219.5,270.86) scale(0.96,1)" font-size="6.85" fill="#1e1e1e" text-anchor="middle" stroke="#1e1e1e" stroke-width="0.12">NDRG2</text>
<text transform="translate(251.45,270.86) scale(0.975,1)" font-size="6.85" fill="#141414" text-anchor="middle" stroke="#141414" stroke-width="0.04">-1,68</text>
<text transform="translate(277.85,270.86) scale(0.975,1)" font-size="6.85" fill="#141414" text-anchor="middle" stroke="#141414" stroke-width="0.12">3,9E-03</text>
<text transform="translate(304.6,270.86) scale(0.975,1)" font-size="6.85" fill="#fff" text-anchor="middle" stroke="#fff" stroke-width="0.04">-3,79</text>
<text transform="translate(330.35,270.86) scale(0.975,1)" font-size="6.85" fill="#141414" text-anchor="middle" stroke="#141414" stroke-width="0.12">3,2E-05</text>
<text transform="translate(219.5,279.27) scale(0.96,1)" font-size="6.85" fill="#1e1e1e" text-anchor="middle" stroke="#1e1e1e" stroke-width="0.12">APOA1</text>
<text transform="translate(251.45,279.27) scale(0.975,1)" font-size="6.85" fill="#141414" text-anchor="middle" stroke="#141414" stroke-width="0.04">-1,16</text>
<text transform="translate(277.85,279.27) scale(0.975,1)" font-size="6.85" fill="#141414" text-anchor="middle" stroke="#141414" stroke-width="0.12">2,0E-02</text>
<text transform="translate(304.6,279.27) scale(0.975,1)" font-size="6.85" fill="#fff" text-anchor="middle" stroke="#fff" stroke-width="0.04">-4,04</text>
<text transform="translate(330.35,279.27) scale(0.975,1)" font-size="6.85" fill="#141414" text-anchor="middle" stroke="#141414" stroke-width="0.12">1,3E-04</text>
<text transform="translate(219.5,287.68) scale(0.96,1)" font-size="6.85" fill="#1e1e1e" text-anchor="middle" stroke="#1e1e1e" stroke-width="0.12">HBB</text>
<text transform="translate(251.45,287.68) scale(0.975,1)" font-size="6.85" fill="#141414" text-anchor="middle" stroke="#141414" stroke-width="0.04">-0,20</text>
<text transform="translate(277.85,287.68) scale(0.975,1)" font-size="6.85" fill="#141414" text-anchor="middle" stroke="#141414" stroke-width="0.12">8,1E-01</text>
<text transform="translate(304.6,287.68) scale(0.975,1)" font-size="6.85" fill="#fff" text-anchor="middle" stroke="#fff" stroke-width="0.04">-4,41</text>
<text transform="translate(330.35,287.68) scale(0.975,1)" font-size="6.85" fill="#141414" text-anchor="middle" stroke="#141414" stroke-width="0.12">4,2E-03</text>
<text transform="translate(219.5,296.09) scale(0.96,1)" font-size="6.85" fill="#1e1e1e" text-anchor="middle" stroke="#1e1e1e" stroke-width="0.12">BPI</text>
<text transform="translate(251.45,296.09) scale(0.975,1)" font-size="6.85" fill="#141414" text-anchor="middle" stroke="#141414" stroke-width="0.04">-0,96</text>
<text transform="translate(277.85,296.09) scale(0.975,1)" font-size="6.85" fill="#141414" text-anchor="middle" stroke="#141414" stroke-width="0.12">2,4E-01</text>
<text transform="translate(304.6,296.09) scale(0.975,1)" font-size="6.85" fill="#fff" text-anchor="middle" stroke="#fff" stroke-width="0.04">-4,43</text>
<text transform="translate(330.35,296.09) scale(0.975,1)" font-size="6.85" fill="#141414" text-anchor="middle" stroke="#141414" stroke-width="0.12">8,5E-04</text>
<rect x="203.5" y="44.8" width="140" height="1.1" fill="#111"/>
<rect x="203.5" y="297.35" width="140" height="1.45" fill="#222"/>
<rect x="404.7" y="45.45" width="24.9" height="9" fill="#af181b"/>
<rect x="458" y="45.45" width="25" height="9" fill="#b2181b"/>
<rect x="404.7" y="53.85" width="24.9" height="9" fill="#c13c3d"/>
<rect x="458" y="53.85" width="25" height="9" fill="#de9d9d"/>
<rect x="404.7" y="62.25" width="24.9" height="9" fill="#cd6767"/>
<rect x="458" y="62.25" width="25" height="9" fill="#e1a6a6"/>
<rect x="404.7" y="70.65" width="24.9" height="9" fill="#d27878"/>
<rect x="458" y="70.65" width="25" height="9" fill="#db9494"/>
<rect x="404.7" y="79.05" width="24.9" height="9" fill="#c64a4a"/>
<rect x="458" y="79.05" width="25" height="9" fill="#ecc7c7"/>
<rect x="404.7" y="87.45" width="24.9" height="9" fill="#e4afaf"/>
<rect x="458" y="87.45" width="25" height="9" fill="#d17575"/>
<rect x="404.7" y="95.85" width="24.9" height="9" fill="#d27777"/>
<rect x="458" y="95.85" width="25" height="9" fill="#e5b2b2"/>
<rect x="404.7" y="104.25" width="24.9" height="9" fill="#cf6c6c"/>
<rect x="458" y="104.25" width="25" height="9" fill="#ecc6c6"/>
<rect x="404.7" y="112.65" width="24.9" height="9" fill="#d27979"/>
<rect x="458" y="112.65" width="25" height="9" fill="#e7b9b9"/>
<rect x="404.7" y="121.05" width="24.9" height="9" fill="#e2a7a7"/>
<rect x="458" y="121.05" width="25" height="9" fill="#da8f8f"/>
<rect x="404.7" y="129.45" width="24.9" height="9" fill="#e7b9b9"/>
<rect x="458" y="129.45" width="25" height="9" fill="#d47d7d"/>
<rect x="404.7" y="137.85" width="24.9" height="9" fill="#d68484"/>
<rect x="458" y="137.85" width="25" height="9" fill="#e6b4b4"/>
<rect x="404.7" y="146.25" width="24.9" height="9" fill="#e1a5a5"/>
<rect x="458" y="146.25" width="25" height="9" fill="#dd9b9b"/>
<rect x="404.7" y="154.65" width="24.9" height="9" fill="#e0a2a2"/>
<rect x="458" y="154.65" width="25" height="9" fill="#e2a9a9"/>
<rect x="404.7" y="163.05" width="24.9" height="9" fill="#e5b3b3"/>
<rect x="458" y="163.05" width="25" height="9" fill="#de9d9d"/>
<rect x="404.7" y="171.45" width="24.9" height="9" fill="#7989c8"/>
<rect x="458" y="171.45" width="25" height="9" fill="#bfc8ea"/>
<rect x="404.7" y="179.85" width="24.9" height="9" fill="#6f81c2"/>
<rect x="458" y="179.85" width="25" height="9" fill="#c8d0ee"/>
<rect x="404.7" y="188.25" width="24.9" height="9" fill="#96a4da"/>
<rect x="458" y="188.25" width="25" height="9" fill="#a2afdf"/>
<rect x="404.7" y="196.65" width="24.9" height="9" fill="#97a5da"/>
<rect x="458" y="196.65" width="25" height="9" fill="#a2aedf"/>
<rect x="404.7" y="205.05" width="24.9" height="9" fill="#6c7ec0"/>
<rect x="458" y="205.05" width="25" height="9" fill="#c2cbec"/>
<rect x="404.7" y="213.45" width="24.9" height="9" fill="#8c9bd4"/>
<rect x="458" y="213.45" width="25" height="9" fill="#9facde"/>
<rect x="404.7" y="221.85" width="24.9" height="9" fill="#6d7fc1"/>
<rect x="458" y="221.85" width="25" height="9" fill="#abb6e2"/>
<rect x="404.7" y="230.25" width="24.9" height="9" fill="#7e8ecb"/>
<rect x="458" y="230.25" width="25" height="9" fill="#8897d1"/>
<rect x="404.7" y="238.65" width="24.9" height="9" fill="#5d72b7"/>
<rect x="458" y="238.65" width="25" height="9" fill="#a2aedf"/>
<rect x="404.7" y="247.05" width="24.9" height="9" fill="#7889c8"/>
<rect x="458" y="247.05" width="25" height="9" fill="#8090cc"/>
<rect x="404.7" y="255.45" width="24.9" height="9" fill="#7081c2"/>
<rect x="458" y="255.45" width="25" height="9" fill="#8594cf"/>
<rect x="404.7" y="263.85" width="24.9" height="9" fill="#4c64ad"/>
<rect x="458" y="263.85" width="25" height="9" fill="#7283c4"/>
<rect x="404.7" y="272.25" width="24.9" height="9" fill="#3f56a3"/>
<rect x="458" y="272.25" width="25" height="9" fill="#a0adde"/>
<rect x="404.7" y="280.65" width="24.9" height="9" fill="#9aa7db"/>
<rect x="458" y="280.65" width="25" height="9" fill="#3e54a3"/>
<rect x="404.7" y="289.05" width="24.9" height="8.4" fill="#5067b0"/>
<rect x="458" y="289.05" width="25" height="8.4" fill="#6074b9"/>
<text transform="translate(381.7,52.2) scale(0.96,1)" font-size="6.85" fill="#1e1e1e" text-anchor="middle" stroke="#1e1e1e" stroke-width="0.12">GNG11</text>
<text transform="translate(417.15,52.2) scale(0.975,1)" font-size="6.85" fill="#141414" text-anchor="middle" stroke="#141414" stroke-width="0.04">4.37</text>
<text transform="translate(443.8,52.2) scale(0.975,1)" font-size="6.85" fill="#141414" text-anchor="middle" stroke="#141414" stroke-width="0.12">5.2E-04</text>
<text transform="translate(470.5,52.2) scale(0.975,1)" font-size="6.85" fill="#141414" text-anchor="middle" stroke="#141414" stroke-width="0.04">3.59</text>
<text transform="translate(497.1,52.2) scale(0.975,1)" font-size="6.85" fill="#141414" text-anchor="middle" stroke="#141414" stroke-width="0.12">3.7E-03</text>
<text transform="translate(381.7,60.61) scale(0.96,1)" font-size="6.85" fill="#1e1e1e" text-anchor="middle" stroke="#1e1e1e" stroke-width="0.12">SESN1</text>
<text transform="translate(417.15,60.61) scale(0.975,1)" font-size="6.85" fill="#141414" text-anchor="middle" stroke="#141414" stroke-width="0.04">3.21</text>
<text transform="translate(443.8,60.61) scale(0.975,1)" font-size="6.85" fill="#141414" text-anchor="middle" stroke="#141414" stroke-width="0.12">6.5E-07</text>
<text transform="translate(470.5,60.61) scale(0.975,1)" font-size="6.85" fill="#141414" text-anchor="middle" stroke="#141414" stroke-width="0.04">1.62</text>
<text transform="translate(497.1,60.61) scale(0.975,1)" font-size="6.85" fill="#141414" text-anchor="middle" stroke="#141414" stroke-width="0.12">7.4E-04</text>
<text transform="translate(381.7,69.02) scale(0.96,1)" font-size="6.85" fill="#1e1e1e" text-anchor="middle" stroke="#1e1e1e" stroke-width="0.12">DPYSL3</text>
<text transform="translate(417.15,69.02) scale(0.975,1)" font-size="6.85" fill="#141414" text-anchor="middle" stroke="#141414" stroke-width="0.04">2.45</text>
<text transform="translate(443.8,69.02) scale(0.975,1)" font-size="6.85" fill="#141414" text-anchor="middle" stroke="#141414" stroke-width="0.12">2.2E-05</text>
<text transform="translate(470.5,69.02) scale(0.975,1)" font-size="6.85" fill="#141414" text-anchor="middle" stroke="#141414" stroke-width="0.04">1.49</text>
<text transform="translate(497.1,69.02) scale(0.975,1)" font-size="6.85" fill="#141414" text-anchor="middle" stroke="#141414" stroke-width="0.12">4.1E-03</text>
<text transform="translate(381.7,77.43) scale(0.96,1)" font-size="6.85" fill="#1e1e1e" text-anchor="middle" stroke="#1e1e1e" stroke-width="0.12">MBOAT7</text>
<text transform="translate(417.15,77.43) scale(0.975,1)" font-size="6.85" fill="#141414" text-anchor="middle" stroke="#141414" stroke-width="0.04">2.16</text>
<text transform="translate(443.8,77.43) scale(0.975,1)" font-size="6.85" fill="#141414" text-anchor="middle" stroke="#141414" stroke-width="0.12">3.5E-05</text>
<text transform="translate(470.5,77.43) scale(0.975,1)" font-size="6.85" fill="#141414" text-anchor="middle" stroke="#141414" stroke-width="0.04">1.76</text>
<text transform="translate(497.1,77.43) scale(0.975,1)" font-size="6.85" fill="#141414" text-anchor="middle" stroke="#141414" stroke-width="0.12">2.4E-04</text>
<text transform="translate(381.7,85.84) scale(0.96,1)" font-size="6.85" fill="#1e1e1e" text-anchor="middle" stroke="#1e1e1e" stroke-width="0.12">MAP1A</text>
<text transform="translate(417.15,85.84) scale(0.975,1)" font-size="6.85" fill="#141414" text-anchor="middle" stroke="#141414" stroke-width="0.04">2.94</text>
<text transform="translate(443.8,85.84) scale(0.975,1)" font-size="6.85" fill="#141414" text-anchor="middle" stroke="#141414" stroke-width="0.12">3.5E-06</text>
<text transform="translate(470.5,85.84) scale(0.975,1)" font-size="6.85" fill="#141414" text-anchor="middle" stroke="#141414" stroke-width="0.04">0.96</text>
<text transform="translate(497.1,85.84) scale(0.975,1)" font-size="6.85" fill="#141414" text-anchor="middle" stroke="#141414" stroke-width="0.12">6.7E-03</text>
<text transform="translate(381.7,94.25) scale(0.96,1)" font-size="6.85" fill="#1e1e1e" text-anchor="middle" stroke="#1e1e1e" stroke-width="0.12">RPS19BP1</text>
<text transform="translate(417.15,94.25) scale(0.975,1)" font-size="6.85" fill="#141414" text-anchor="middle" stroke="#141414" stroke-width="0.04">1.36</text>
<text transform="translate(443.8,94.25) scale(0.975,1)" font-size="6.85" fill="#141414" text-anchor="middle" stroke="#141414" stroke-width="0.12">2.4E-04</text>
<text transform="translate(470.5,94.25) scale(0.975,1)" font-size="6.85" fill="#141414" text-anchor="middle" stroke="#141414" stroke-width="0.04">2.21</text>
<text transform="translate(497.1,94.25) scale(0.975,1)" font-size="6.85" fill="#141414" text-anchor="middle" stroke="#141414" stroke-width="0.12">1.1E-03</text>
<text transform="translate(381.7,102.66) scale(0.96,1)" font-size="6.85" fill="#1e1e1e" text-anchor="middle" stroke="#1e1e1e" stroke-width="0.12">CD99</text>
<text transform="translate(417.15,102.66) scale(0.975,1)" font-size="6.85" fill="#141414" text-anchor="middle" stroke="#141414" stroke-width="0.04">2.17</text>
<text transform="translate(443.8,102.66) scale(0.975,1)" font-size="6.85" fill="#141414" text-anchor="middle" stroke="#141414" stroke-width="0.12">4.7E-06</text>
<text transform="translate(470.5,102.66) scale(0.975,1)" font-size="6.85" fill="#141414" text-anchor="middle" stroke="#141414" stroke-width="0.04">1.31</text>
<text transform="translate(497.1,102.66) scale(0.975,1)" font-size="6.85" fill="#141414" text-anchor="middle" stroke="#141414" stroke-width="0.12">2.6E-03</text>
<text transform="translate(381.7,111.07) scale(0.96,1)" font-size="6.85" fill="#1e1e1e" text-anchor="middle" stroke="#1e1e1e" stroke-width="0.12">ADA</text>
<text transform="translate(417.15,111.07) scale(0.975,1)" font-size="6.85" fill="#141414" text-anchor="middle" stroke="#141414" stroke-width="0.04">2.36</text>
<text transform="translate(443.8,111.07) scale(0.975,1)" font-size="6.85" fill="#141414" text-anchor="middle" stroke="#141414" stroke-width="0.12">1.3E-07</text>
<text transform="translate(470.5,111.07) scale(0.975,1)" font-size="6.85" fill="#141414" text-anchor="middle" stroke="#141414" stroke-width="0.04">0.98</text>
<text transform="translate(497.1,111.07) scale(0.975,1)" font-size="6.85" fill="#141414" text-anchor="middle" stroke="#141414" stroke-width="0.12">6.6E-04</text>
<text transform="translate(381.7,119.48) scale(0.96,1)" font-size="6.85" fill="#1e1e1e" text-anchor="middle" stroke="#1e1e1e" stroke-width="0.12">MGLL</text>
<text transform="translate(417.15,119.48) scale(0.975,1)" font-size="6.85" fill="#141414" text-anchor="middle" stroke="#141414" stroke-width="0.04">2.15</text>
<text transform="translate(443.8,119.48) scale(0.975,1)" font-size="6.85" fill="#141414" text-anchor="middle" stroke="#141414" stroke-width="0.12">1.2E-05</text>
<text transform="translate(470.5,119.48) scale(0.975,1)" font-size="6.85" fill="#141414" text-anchor="middle" stroke="#141414" stroke-width="0.04">1.19</text>
<text transform="translate(497.1,119.48) scale(0.975,1)" font-size="6.85" fill="#141414" text-anchor="middle" stroke="#141414" stroke-width="0.12">2.1E-03</text>
<text transform="translate(381.7,127.89) scale(0.96,1)" font-size="6.85" fill="#1e1e1e" text-anchor="middle" stroke="#1e1e1e" stroke-width="0.12">GLTSCR2</text>
<text transform="translate(417.15,127.89) scale(0.975,1)" font-size="6.85" fill="#141414" text-anchor="middle" stroke="#141414" stroke-width="0.04">1.47</text>
<text transform="translate(443.8,127.89) scale(0.975,1)" font-size="6.85" fill="#141414" text-anchor="middle" stroke="#141414" stroke-width="0.12">3.9E-03</text>
<text transform="translate(470.5,127.89) scale(0.975,1)" font-size="6.85" fill="#141414" text-anchor="middle" stroke="#141414" stroke-width="0.04">1.82</text>
<text transform="translate(497.1,127.89) scale(0.975,1)" font-size="6.85" fill="#141414" text-anchor="middle" stroke="#141414" stroke-width="0.12">5.7E-03</text>
<text transform="translate(381.7,136.3) scale(0.96,1)" font-size="6.85" fill="#1e1e1e" text-anchor="middle" stroke="#1e1e1e" stroke-width="0.12">PTDSS1</text>
<text transform="translate(417.15,136.3) scale(0.975,1)" font-size="6.85" fill="#141414" text-anchor="middle" stroke="#141414" stroke-width="0.04">1.20</text>
<text transform="translate(443.8,136.3) scale(0.975,1)" font-size="6.85" fill="#141414" text-anchor="middle" stroke="#141414" stroke-width="0.12">4.2E-03</text>
<text transform="translate(470.5,136.3) scale(0.975,1)" font-size="6.85" fill="#141414" text-anchor="middle" stroke="#141414" stroke-width="0.04">2.09</text>
<text transform="translate(497.1,136.3) scale(0.975,1)" font-size="6.85" fill="#141414" text-anchor="middle" stroke="#141414" stroke-width="0.12">1.6E-04</text>
<text transform="translate(381.7,144.71) scale(0.96,1)" font-size="6.85" fill="#1e1e1e" text-anchor="middle" stroke="#1e1e1e" stroke-width="0.12">HMGA1</text>
<text transform="translate(417.15,144.71) scale(0.975,1)" font-size="6.85" fill="#141414" text-anchor="middle" stroke="#141414" stroke-width="0.04">1.98</text>
<text transform="translate(443.8,144.71) scale(0.975,1)" font-size="6.85" fill="#141414" text-anchor="middle" stroke="#141414" stroke-width="0.12">1.6E-06</text>
<text transform="translate(470.5,144.71) scale(0.975,1)" font-size="6.85" fill="#141414" text-anchor="middle" stroke="#141414" stroke-width="0.04">1.28</text>
<text transform="translate(497.1,144.71) scale(0.975,1)" font-size="6.85" fill="#141414" text-anchor="middle" stroke="#141414" stroke-width="0.12">2.1E-04</text>
<text transform="translate(381.7,153.12) scale(0.96,1)" font-size="6.85" fill="#1e1e1e" text-anchor="middle" stroke="#1e1e1e" stroke-width="0.12">RPIA</text>
<text transform="translate(417.15,153.12) scale(0.975,1)" font-size="6.85" fill="#141414" text-anchor="middle" stroke="#141414" stroke-width="0.04">1.50</text>
<text transform="translate(443.8,153.12) scale(0.975,1)" font-size="6.85" fill="#141414" text-anchor="middle" stroke="#141414" stroke-width="0.12">1.1E-04</text>
<text transform="translate(470.5,153.12) scale(0.975,1)" font-size="6.85" fill="#141414" text-anchor="middle" stroke="#141414" stroke-width="0.04">1.65</text>
<text transform="translate(497.1,153.12) scale(0.975,1)" font-size="6.85" fill="#141414" text-anchor="middle" stroke="#141414" stroke-width="0.12">6.2E-03</text>
<text transform="translate(381.7,161.53) scale(0.96,1)" font-size="6.85" fill="#1e1e1e" text-anchor="middle" stroke="#1e1e1e" stroke-width="0.12">SPTAN1</text>
<text transform="translate(417.15,161.53) scale(0.975,1)" font-size="6.85" fill="#141414" text-anchor="middle" stroke="#141414" stroke-width="0.04">1.55</text>
<text transform="translate(443.8,161.53) scale(0.975,1)" font-size="6.85" fill="#141414" text-anchor="middle" stroke="#141414" stroke-width="0.12">6.1E-06</text>
<text transform="translate(470.5,161.53) scale(0.975,1)" font-size="6.85" fill="#141414" text-anchor="middle" stroke="#141414" stroke-width="0.04">1.45</text>
<text transform="translate(497.1,161.53) scale(0.975,1)" font-size="6.85" fill="#141414" text-anchor="middle" stroke="#141414" stroke-width="0.12">1.5E-03</text>
<text transform="translate(381.7,169.94) scale(0.96,1)" font-size="6.85" fill="#1e1e1e" text-anchor="middle" stroke="#1e1e1e" stroke-width="0.12">DHTKD1</text>
<text transform="translate(417.15,169.94) scale(0.975,1)" font-size="6.85" fill="#141414" text-anchor="middle" stroke="#141414" stroke-width="0.04">1.30</text>
<text transform="translate(443.8,169.94) scale(0.975,1)" font-size="6.85" fill="#141414" text-anchor="middle" stroke="#141414" stroke-width="0.12">3.5E-05</text>
<text transform="translate(470.5,169.94) scale(0.975,1)" font-size="6.85" fill="#141414" text-anchor="middle" stroke="#141414" stroke-width="0.04">1.62</text>
<text transform="translate(497.1,169.94) scale(0.975,1)" font-size="6.85" fill="#141414" text-anchor="middle" stroke="#141414" stroke-width="0.12">7.0E-04</text>
<text transform="translate(381.7,178.35) scale(0.96,1)" font-size="6.85" fill="#1e1e1e" text-anchor="middle" stroke="#1e1e1e" stroke-width="0.12">DOCK10</text>
<text transform="translate(417.15,178.35) scale(0.975,1)" font-size="6.85" fill="#fff" text-anchor="middle" stroke="#fff" stroke-width="0.04">-2.18</text>
<text transform="translate(443.8,178.35) scale(0.975,1)" font-size="6.85" fill="#141414" text-anchor="middle" stroke="#141414" stroke-width="0.12">2.0E-05</text>
<text transform="translate(470.5,178.35) scale(0.975,1)" font-size="6.85" fill="#141414" text-anchor="middle" stroke="#141414" stroke-width="0.04">-1.07</text>
<text transform="translate(497.1,178.35) scale(0.975,1)" font-size="6.85" fill="#141414" text-anchor="middle" stroke="#141414" stroke-width="0.12">4.8E-03</text>
<text transform="translate(381.7,186.76) scale(0.96,1)" font-size="6.85" fill="#1e1e1e" text-anchor="middle" stroke="#1e1e1e" stroke-width="0.12">SMC4</text>
<text transform="translate(417.15,186.76) scale(0.975,1)" font-size="6.85" fill="#fff" text-anchor="middle" stroke="#fff" stroke-width="0.04">-2.33</text>
<text transform="translate(443.8,186.76) scale(0.975,1)" font-size="6.85" fill="#141414" text-anchor="middle" stroke="#141414" stroke-width="0.12">9.1E-08</text>
<text transform="translate(470.5,186.76) scale(0.975,1)" font-size="6.85" fill="#141414" text-anchor="middle" stroke="#141414" stroke-width="0.04">-0.92</text>
<text transform="translate(497.1,186.76) scale(0.975,1)" font-size="6.85" fill="#141414" text-anchor="middle" stroke="#141414" stroke-width="0.12">9.8E-03</text>
<text transform="translate(381.7,195.17) scale(0.96,1)" font-size="6.85" fill="#1e1e1e" text-anchor="middle" stroke="#1e1e1e" stroke-width="0.12">HLA-DQA1</text>
<text transform="translate(417.15,195.17) scale(0.975,1)" font-size="6.85" fill="#141414" text-anchor="middle" stroke="#141414" stroke-width="0.04">-1.74</text>
<text transform="translate(443.8,195.17) scale(0.975,1)" font-size="6.85" fill="#141414" text-anchor="middle" stroke="#141414" stroke-width="0.12">2.0E-04</text>
<text transform="translate(470.5,195.17) scale(0.975,1)" font-size="6.85" fill="#141414" text-anchor="middle" stroke="#141414" stroke-width="0.04">-1.54</text>
<text transform="translate(497.1,195.17) scale(0.975,1)" font-size="6.85" fill="#141414" text-anchor="middle" stroke="#141414" stroke-width="0.12">4.6E-04</text>
<text transform="translate(381.7,203.58) scale(0.96,1)" font-size="6.85" fill="#1e1e1e" text-anchor="middle" stroke="#1e1e1e" stroke-width="0.12">GNS</text>
<text transform="translate(417.15,203.58) scale(0.975,1)" font-size="6.85" fill="#141414" text-anchor="middle" stroke="#141414" stroke-width="0.04">-1.73</text>
<text transform="translate(443.8,203.58) scale(0.975,1)" font-size="6.85" fill="#141414" text-anchor="middle" stroke="#141414" stroke-width="0.12">1.7E-04</text>
<text transform="translate(470.5,203.58) scale(0.975,1)" font-size="6.85" fill="#141414" text-anchor="middle" stroke="#141414" stroke-width="0.04">-1.55</text>
<text transform="translate(497.1,203.58) scale(0.975,1)" font-size="6.85" fill="#141414" text-anchor="middle" stroke="#141414" stroke-width="0.12">1.4E-04</text>
<text transform="translate(381.7,211.99) scale(0.96,1)" font-size="6.85" fill="#1e1e1e" text-anchor="middle" stroke="#1e1e1e" stroke-width="0.12">WARS</text>
<text transform="translate(417.15,211.99) scale(0.975,1)" font-size="6.85" fill="#fff" text-anchor="middle" stroke="#fff" stroke-width="0.04">-2.40</text>
<text transform="translate(443.8,211.99) scale(0.975,1)" font-size="6.85" fill="#141414" text-anchor="middle" stroke="#141414" stroke-width="0.12">6.5E-07</text>
<text transform="translate(470.5,211.99) scale(0.975,1)" font-size="6.85" fill="#141414" text-anchor="middle" stroke="#141414" stroke-width="0.04">-1.02</text>
<text transform="translate(497.1,211.99) scale(0.975,1)" font-size="6.85" fill="#141414" text-anchor="middle" stroke="#141414" stroke-width="0.12">7.8E-03</text>
<text transform="translate(381.7,220.4) scale(0.96,1)" font-size="6.85" fill="#1e1e1e" text-anchor="middle" stroke="#1e1e1e" stroke-width="0.12">RPL15</text>
<text transform="translate(417.15,220.4) scale(0.975,1)" font-size="6.85" fill="#141414" text-anchor="middle" stroke="#141414" stroke-width="0.04">-1.89</text>
<text transform="translate(443.8,220.4) scale(0.975,1)" font-size="6.85" fill="#141414" text-anchor="middle" stroke="#141414" stroke-width="0.12">4.7E-04</text>
<text transform="translate(470.5,220.4) scale(0.975,1)" font-size="6.85" fill="#141414" text-anchor="middle" stroke="#141414" stroke-width="0.04">-1.59</text>
<text transform="translate(497.1,220.4) scale(0.975,1)" font-size="6.85" fill="#141414" text-anchor="middle" stroke="#141414" stroke-width="0.12">3.6E-03</text>
<text transform="translate(381.7,228.81) scale(0.96,1)" font-size="6.85" fill="#1e1e1e" text-anchor="middle" stroke="#1e1e1e" stroke-width="0.12">CHAF1A</text>
<text transform="translate(417.15,228.81) scale(0.975,1)" font-size="6.85" fill="#141414" text-anchor="middle" stroke="#141414" stroke-width="0.04">-2.37</text>
<text transform="translate(443.8,228.81) scale(0.975,1)" font-size="6.85" fill="#141414" text-anchor="middle" stroke="#141414" stroke-width="0.12">1.6E-04</text>
<text transform="translate(470.5,228.81) scale(0.975,1)" font-size="6.85" fill="#141414" text-anchor="middle" stroke="#141414" stroke-width="0.04">-1.40</text>
<text transform="translate(497.1,228.81) scale(0.975,1)" font-size="6.85" fill="#141414" text-anchor="middle" stroke="#141414" stroke-width="0.12">8.5E-03</text>
<text transform="translate(381.7,237.22) scale(0.96,1)" font-size="6.85" fill="#1e1e1e" text-anchor="middle" stroke="#1e1e1e" stroke-width="0.12">ANXA5</text>
<text transform="translate(417.15,237.22) scale(0.975,1)" font-size="6.85" fill="#141414" text-anchor="middle" stroke="#141414" stroke-width="0.04">-2.10</text>
<text transform="translate(443.8,237.22) scale(0.975,1)" font-size="6.85" fill="#141414" text-anchor="middle" stroke="#141414" stroke-width="0.12">1.8E-04</text>
<text transform="translate(470.5,237.22) scale(0.975,1)" font-size="6.85" fill="#141414" text-anchor="middle" stroke="#141414" stroke-width="0.04">-1.95</text>
<text transform="translate(497.1,237.22) scale(0.975,1)" font-size="6.85" fill="#141414" text-anchor="middle" stroke="#141414" stroke-width="0.12">1.8E-03</text>
<text transform="translate(381.7,245.63) scale(0.96,1)" font-size="6.85" fill="#1e1e1e" text-anchor="middle" stroke="#1e1e1e" stroke-width="0.12">MKI67</text>
<text transform="translate(417.15,245.63) scale(0.975,1)" font-size="6.85" fill="#fff" text-anchor="middle" stroke="#fff" stroke-width="0.04">-2.67</text>
<text transform="translate(443.8,245.63) scale(0.975,1)" font-size="6.85" fill="#141414" text-anchor="middle" stroke="#141414" stroke-width="0.12">5.2E-06</text>
<text transform="translate(470.5,245.63) scale(0.975,1)" font-size="6.85" fill="#141414" text-anchor="middle" stroke="#141414" stroke-width="0.04">-1.55</text>
<text transform="translate(497.1,245.63) scale(0.975,1)" font-size="6.85" fill="#141414" text-anchor="middle" stroke="#141414" stroke-width="0.12">3.5E-03</text>
<text transform="translate(381.7,254.04) scale(0.96,1)" font-size="6.85" fill="#1e1e1e" text-anchor="middle" stroke="#1e1e1e" stroke-width="0.12">CTSH</text>
<text transform="translate(417.15,254.04) scale(0.975,1)" font-size="6.85" fill="#141414" text-anchor="middle" stroke="#141414" stroke-width="0.04">-2.19</text>
<text transform="translate(443.8,254.04) scale(0.975,1)" font-size="6.85" fill="#141414" text-anchor="middle" stroke="#141414" stroke-width="0.12">5.0E-03</text>
<text transform="translate(470.5,254.04) scale(0.975,1)" font-size="6.85" fill="#141414" text-anchor="middle" stroke="#141414" stroke-width="0.04">-2.07</text>
<text transform="translate(381.7,262.45) scale(0.96,1)" font-size="6.85" fill="#1e1e1e" text-anchor="middle" stroke="#1e1e1e" stroke-width="0.12">GABARAPL2</text>
<text transform="translate(417.15,262.45) scale(0.975,1)" font-size="6.85" fill="#141414" text-anchor="middle" stroke="#141414" stroke-width="0.04">-2.32</text>
<text transform="translate(443.8,262.45) scale(0.975,1)" font-size="6.85" fill="#141414" text-anchor="middle" stroke="#141414" stroke-width="0.12">1.9E-03</text>
<text transform="translate(470.5,262.45) scale(0.975,1)" font-size="6.85" fill="#141414" text-anchor="middle" stroke="#141414" stroke-width="0.04">-2.00</text>
<text transform="translate(497.1,262.45) scale(0.975,1)" font-size="6.85" fill="#141414" text-anchor="middle" stroke="#141414" stroke-width="0.12">9.5E-03</text>
<text transform="translate(381.7,270.86) scale(0.96,1)" font-size="6.85" fill="#1e1e1e" text-anchor="middle" stroke="#1e1e1e" stroke-width="0.12">CST7</text>
<text transform="translate(417.15,270.86) scale(0.975,1)" font-size="6.85" fill="#fff" text-anchor="middle" stroke="#fff" stroke-width="0.04">-2.98</text>
<text transform="translate(443.8,270.86) scale(0.975,1)" font-size="6.85" fill="#141414" text-anchor="middle" stroke="#141414" stroke-width="0.12">1.7E-05</text>
<text transform="translate(470.5,270.86) scale(0.975,1)" font-size="6.85" fill="#141414" text-anchor="middle" stroke="#141414" stroke-width="0.04">-2.28</text>
<text transform="translate(497.1,270.86) scale(0.975,1)" font-size="6.85" fill="#141414" text-anchor="middle" stroke="#141414" stroke-width="0.12">4.1E-03</text>
<text transform="translate(381.7,279.27) scale(0.96,1)" font-size="6.85" fill="#1e1e1e" text-anchor="middle" stroke="#1e1e1e" stroke-width="0.12">NCAPD2</text>
<text transform="translate(417.15,279.27) scale(0.975,1)" font-size="6.85" fill="#fff" text-anchor="middle" stroke="#fff" stroke-width="0.04">-3.70</text>
<text transform="translate(443.8,279.27) scale(0.975,1)" font-size="6.85" fill="#141414" text-anchor="middle" stroke="#141414" stroke-width="0.12">1.2E-07</text>
<text transform="translate(470.5,279.27) scale(0.975,1)" font-size="6.85" fill="#141414" text-anchor="middle" stroke="#141414" stroke-width="0.04">-1.58</text>
<text transform="translate(497.1,279.27) scale(0.975,1)" font-size="6.85" fill="#141414" text-anchor="middle" stroke="#141414" stroke-width="0.12">9.6E-04</text>
<text transform="translate(381.7,287.68) scale(0.96,1)" font-size="6.85" fill="#1e1e1e" text-anchor="middle" stroke="#1e1e1e" stroke-width="0.12">NDRG2</text>
<text transform="translate(417.15,287.68) scale(0.975,1)" font-size="6.85" fill="#141414" text-anchor="middle" stroke="#141414" stroke-width="0.04">-1.68</text>
<text transform="translate(443.8,287.68) scale(0.975,1)" font-size="6.85" fill="#141414" text-anchor="middle" stroke="#141414" stroke-width="0.12">3.9E-03</text>
<text transform="translate(470.5,287.68) scale(0.975,1)" font-size="6.85" fill="#fff" text-anchor="middle" stroke="#fff" stroke-width="0.04">-3.79</text>
<text transform="translate(497.1,287.68) scale(0.975,1)" font-size="6.85" fill="#141414" text-anchor="middle" stroke="#141414" stroke-width="0.12">3.2E-05</text>
<text transform="translate(381.7,296.09) scale(0.96,1)" font-size="6.85" fill="#1e1e1e" text-anchor="middle" stroke="#1e1e1e" stroke-width="0.12">PRKAR2B</text>
<text transform="translate(417.15,296.09) scale(0.975,1)" font-size="6.85" fill="#fff" text-anchor="middle" stroke="#fff" stroke-width="0.04">-2.91</text>
<text transform="translate(443.8,296.09) scale(0.975,1)" font-size="6.85" fill="#141414" text-anchor="middle" stroke="#141414" stroke-width="0.12">1.0E-04</text>
<text transform="translate(470.5,296.09) scale(0.975,1)" font-size="6.85" fill="#fff" text-anchor="middle" stroke="#fff" stroke-width="0.04">-2.62</text>
<text transform="translate(497.1,296.09) scale(0.975,1)" font-size="6.85" fill="#141414" text-anchor="middle" stroke="#141414" stroke-width="0.12">2.7E-03</text>
<rect x="364.6" y="44.8" width="146.6" height="1.1" fill="#111"/>
<rect x="364.6" y="297.35" width="146.6" height="1.45" fill="#222"/>
<text transform="translate(100,25.6) scale(0.9,1)" font-size="7.3" fill="#b9303f" text-anchor="middle" stroke="#b9303f" stroke-width="0.1">LSC vs. Blast</text>
<rect x="75.2" y="29.85" width="49" height="1.35" fill="#b9303f"/>
<text transform="translate(149.7,25.6) scale(0.9,1)" font-size="7.3" fill="#1e1e1e" text-anchor="middle" stroke="#1e1e1e" stroke-width="0.1">LSC vs. HSPC</text>
<rect x="128.7" y="29.85" width="49.2" height="1.35" fill="#1e1e1e"/>
<text transform="translate(86.75,39.9) scale(0.98,1)" font-size="7.0" fill="#b9303f" text-anchor="middle" stroke="#b9303f" stroke-width="0.1">log2FC</text>
<text transform="translate(113.5,39.9) scale(0.98,1)" font-size="7.0" fill="#b9303f" text-anchor="middle" stroke="#b9303f" stroke-width="0.1">padj</text>
<text transform="translate(140,39.9) scale(0.98,1)" font-size="7.0" fill="#1e1e1e" text-anchor="middle" stroke="#1e1e1e" stroke-width="0.1">log2FC</text>
<text transform="translate(166.4,39.9) scale(0.98,1)" font-size="7.0" fill="#1e1e1e" text-anchor="middle" stroke="#1e1e1e" stroke-width="0.1">padj</text>
<text transform="translate(263.9,25.7) scale(0.9,1)" font-size="7.3" fill="#1e1e1e" text-anchor="middle" stroke="#1e1e1e" stroke-width="0.1">LSC vs. Blast</text>
<rect x="239.2" y="30.05" width="49" height="1.35" fill="#1e1e1e"/>
<text transform="translate(317.1,25.7) scale(0.9,1)" font-size="7.3" fill="#b9303f" text-anchor="middle" stroke="#b9303f" stroke-width="0.1">LSC vs. HSPC</text>
<rect x="292.3" y="30.05" width="49.2" height="1.35" fill="#b9303f"/>
<text transform="translate(250.7,39.9) scale(0.98,1)" font-size="7.0" fill="#1e1e1e" text-anchor="middle" stroke="#1e1e1e" stroke-width="0.1">log2FC</text>
<text transform="translate(277.4,39.9) scale(0.98,1)" font-size="7.0" fill="#1e1e1e" text-anchor="middle" stroke="#1e1e1e" stroke-width="0.1">padj</text>
<text transform="translate(303.8,39.9) scale(0.98,1)" font-size="7.0" fill="#b9303f" text-anchor="middle" stroke="#b9303f" stroke-width="0.1">log2FC</text>
<text transform="translate(330.4,39.9) scale(0.98,1)" font-size="7.0" fill="#b9303f" text-anchor="middle" stroke="#b9303f" stroke-width="0.1">padj</text>
<text transform="translate(431,27.3) scale(0.9,1)" font-size="7.3" fill="#b9303f" text-anchor="middle" stroke="#b9303f" stroke-width="0.1">LSC vs. Blast</text>
<rect x="406.7" y="31.75" width="48.8" height="1.35" fill="#b9303f"/>
<text transform="translate(484.5,27.3) scale(0.9,1)" font-size="7.3" fill="#b9303f" text-anchor="middle" stroke="#b9303f" stroke-width="0.1">LSC vs. HSPC</text>
<rect x="460" y="31.75" width="49" height="1.35" fill="#b9303f"/>
<text transform="translate(418,41.7) scale(0.98,1)" font-size="7.0" fill="#b9303f" text-anchor="middle" stroke="#b9303f" stroke-width="0.1">log2FC</text>
<text transform="translate(444.5,41.7) scale(0.98,1)" font-size="7.0" fill="#b9303f" text-anchor="middle" stroke="#b9303f" stroke-width="0.1">padj</text>
<text transform="translate(471.4,41.7) scale(0.98,1)" font-size="7.0" fill="#b9303f" text-anchor="middle" stroke="#b9303f" stroke-width="0.1">log2FC</text>
<text transform="translate(497.7,41.7) scale(0.98,1)" font-size="7.0" fill="#b9303f" text-anchor="middle" stroke="#b9303f" stroke-width="0.1">padj</text>
<rect x="22" y="41" width="1.4" height="235.6" fill="#333"/>
<text transform="translate(16.3,159.2) rotate(-90) scale(0.89,1)" font-size="7.6" fill="#1e1e1e" stroke="#1e1e1e" stroke-width="0.1" text-anchor="middle">FLT3-WT/NPM1-WT</text>
<text transform="translate(81.6,337.6) scale(0.96,1)" font-size="9.9" fill="#111" text-anchor="middle">CD36</text>
<text transform="translate(16.7,389) rotate(-90) scale(0.893,1)" font-size="8.3" fill="#1a1a1a" stroke="#1a1a1a" stroke-width="0.12" text-anchor="middle">Mean fluorescent intensity</text>
<g>
<line x1="56.8" y1="357.6" x2="68.9" y2="396.7" stroke="#b4002a" stroke-width="0.8"/>
<line x1="56.8" y1="364.5" x2="68.9" y2="396.7" stroke="#b4002a" stroke-width="0.8"/>
<line x1="56.8" y1="392.5" x2="68.9" y2="428.6" stroke="#b4002a" stroke-width="0.8"/>
<line x1="56.8" y1="395.8" x2="68.9" y2="429.1" stroke="#b4002a" stroke-width="0.8"/>
<line x1="56.8" y1="403.2" x2="68.9" y2="428.8" stroke="#b4002a" stroke-width="0.8"/>
<line x1="56.8" y1="425.6" x2="68.9" y2="420.6" stroke="#b4002a" stroke-width="0.8"/>
<line x1="56.8" y1="428.3" x2="68.9" y2="428.6" stroke="#b4002a" stroke-width="0.8"/>
<line x1="81.1" y1="392.8" x2="93.2" y2="429.5" stroke="#1d3c80" stroke-width="0.7"/>
<line x1="81.1" y1="429" x2="93.2" y2="395.3" stroke="#1d3c80" stroke-width="0.7"/>
<line x1="81.1" y1="429.8" x2="93.2" y2="349" stroke="#1d3c80" stroke-width="0.7"/>
<line x1="81.1" y1="427.7" x2="93.2" y2="427.9" stroke="#1d3c80" stroke-width="0.7"/>
<line x1="81.1" y1="429.2" x2="93.2" y2="430.6" stroke="#1d3c80" stroke-width="0.7"/>
<line x1="81.1" y1="431" x2="93.2" y2="430.9" stroke="#1d3c80" stroke-width="0.7"/>
<line x1="81.1" y1="430.3" x2="93.2" y2="428.8" stroke="#1d3c80" stroke-width="0.7"/>
</g>
<rect x="50.2" y="412.9" width="62" height="3.3" fill="#fff"/>
<circle cx="56.8" cy="357.6" r="1.05" fill="#b4002a"/>
<circle cx="68.9" cy="396.7" r="1.05" fill="#b4002a"/>
<circle cx="56.8" cy="364.5" r="1.05" fill="#b4002a"/>
<circle cx="68.9" cy="396.7" r="1.05" fill="#b4002a"/>
<circle cx="56.8" cy="392.5" r="1.05" fill="#b4002a"/>
<circle cx="68.9" cy="428.6" r="1.05" fill="#b4002a"/>
<circle cx="56.8" cy="395.8" r="1.05" fill="#b4002a"/>
<circle cx="68.9" cy="429.1" r="1.05" fill="#b4002a"/>
<circle cx="56.8" cy="403.2" r="1.05" fill="#b4002a"/>
<circle cx="68.9" cy="428.8" r="1.05" fill="#b4002a"/>
<circle cx="56.8" cy="425.6" r="1.05" fill="#b4002a"/>
<circle cx="68.9" cy="420.6" r="1.05" fill="#b4002a"/>
<circle cx="56.8" cy="428.3" r="1.05" fill="#b4002a"/>
<circle cx="68.9" cy="428.6" r="1.05" fill="#b4002a"/>
<circle cx="81.1" cy="392.8" r="1.05" fill="#1d3c80"/>
<circle cx="93.2" cy="429.5" r="1.05" fill="#1d3c80"/>
<circle cx="81.1" cy="429" r="1.05" fill="#1d3c80"/>
<circle cx="93.2" cy="395.3" r="1.05" fill="#1d3c80"/>
<circle cx="81.1" cy="429.8" r="1.05" fill="#1d3c80"/>
<circle cx="93.2" cy="349" r="1.05" fill="#1d3c80"/>
<circle cx="81.1" cy="427.7" r="1.05" fill="#1d3c80"/>
<circle cx="93.2" cy="427.9" r="1.05" fill="#1d3c80"/>
<circle cx="81.1" cy="429.2" r="1.05" fill="#1d3c80"/>
<circle cx="93.2" cy="430.6" r="1.05" fill="#1d3c80"/>
<circle cx="81.1" cy="431" r="1.05" fill="#1d3c80"/>
<circle cx="93.2" cy="430.9" r="1.05" fill="#1d3c80"/>
<circle cx="81.1" cy="430.3" r="1.05" fill="#1d3c80"/>
<circle cx="93.2" cy="428.8" r="1.05" fill="#1d3c80"/>
<polyline points="102.6,429.9 104.5,429.5 106.5,429.7 108.3,429.8 109.2,430.0" fill="none" stroke="#4c9d20" stroke-width="1.9" stroke-linecap="round" stroke-linejoin="round"/>
<line x1="49.2" y1="343.8" x2="49.2" y2="412.7" stroke="#111" stroke-width="1.3"/>
<line x1="49.2" y1="416.4" x2="49.2" y2="434.1" stroke="#111" stroke-width="1.3"/>
<line x1="45.4" y1="412.7" x2="52.8" y2="412.7" stroke="#111" stroke-width="1.1"/>
<line x1="45.4" y1="416.4" x2="52.8" y2="416.4" stroke="#111" stroke-width="1.1"/>
<line x1="48.55" y1="433.5" x2="114" y2="433.5" stroke="#111" stroke-width="1.3"/>
<line x1="56.8" y1="433.5" x2="56.8" y2="437.2" stroke="#111" stroke-width="1.0"/>
<line x1="68.9" y1="433.5" x2="68.9" y2="437.2" stroke="#111" stroke-width="1.0"/>
<line x1="81.1" y1="433.5" x2="81.1" y2="437.2" stroke="#111" stroke-width="1.0"/>
<line x1="93.2" y1="433.5" x2="93.2" y2="437.2" stroke="#111" stroke-width="1.0"/>
<line x1="105.5" y1="433.5" x2="105.5" y2="437.2" stroke="#111" stroke-width="1.0"/>
<line x1="45.4" y1="352.6" x2="49.2" y2="352.6" stroke="#111" stroke-width="1.0"/>
<line x1="45.4" y1="373.6" x2="49.2" y2="373.6" stroke="#111" stroke-width="1.0"/>
<line x1="45.4" y1="394.6" x2="49.2" y2="394.6" stroke="#111" stroke-width="1.0"/>
<line x1="47" y1="347.35" x2="49.2" y2="347.35" stroke="#111" stroke-width="0.9"/>
<line x1="47" y1="357.85" x2="49.2" y2="357.85" stroke="#111" stroke-width="0.9"/>
<line x1="47" y1="363.1" x2="49.2" y2="363.1" stroke="#111" stroke-width="0.9"/>
<line x1="47" y1="368.35" x2="49.2" y2="368.35" stroke="#111" stroke-width="0.9"/>
<line x1="47" y1="378.85" x2="49.2" y2="378.85" stroke="#111" stroke-width="0.9"/>
<line x1="47" y1="384.1" x2="49.2" y2="384.1" stroke="#111" stroke-width="0.9"/>
<line x1="47" y1="389.35" x2="49.2" y2="389.35" stroke="#111" stroke-width="0.9"/>
<line x1="47" y1="399.85" x2="49.2" y2="399.85" stroke="#111" stroke-width="0.9"/>
<line x1="47" y1="405.1" x2="49.2" y2="405.1" stroke="#111" stroke-width="0.9"/>
<line x1="47" y1="410.2" x2="49.2" y2="410.2" stroke="#111" stroke-width="0.9"/>
<line x1="45.4" y1="423.8" x2="49.2" y2="423.8" stroke="#111" stroke-width="1.0"/>
<line x1="45.4" y1="431.2" x2="49.2" y2="431.2" stroke="#111" stroke-width="1.0"/>
<text transform="translate(41.2,355.05) scale(0.93,1)" font-size="7.0" fill="#222" text-anchor="end" stroke="#222" stroke-width="0.08">60000</text>
<text transform="translate(41.2,376.05) scale(0.93,1)" font-size="7.0" fill="#222" text-anchor="end" stroke="#222" stroke-width="0.08">40000</text>
<text transform="translate(41.2,397.05) scale(0.93,1)" font-size="7.0" fill="#222" text-anchor="end" stroke="#222" stroke-width="0.08">20000</text>
<text transform="translate(41.2,418.75) scale(0.93,1)" font-size="7.0" fill="#222" text-anchor="end" stroke="#222" stroke-width="0.08">3000</text>
<text transform="translate(41.2,426.15) scale(0.93,1)" font-size="7.0" fill="#222" text-anchor="end" stroke="#222" stroke-width="0.08">1500</text>
<text transform="translate(41.2,433.55) scale(0.93,1)" font-size="7.0" fill="#222" text-anchor="end" stroke="#222" stroke-width="0.08">0</text>
<text transform="translate(59.7,445.8) rotate(-45)" font-size="6.2" fill="#1a1a1a" text-anchor="end" stroke="#1a1a1a" stroke-width="0.1">LSC</text>
<text transform="translate(71.8,445.8) rotate(-45)" font-size="6.2" fill="#1a1a1a" text-anchor="end" stroke="#1a1a1a" stroke-width="0.1">Blasts</text>
<text transform="translate(84,445.8) rotate(-45)" font-size="6.2" fill="#1a1a1a" text-anchor="end" stroke="#1a1a1a" stroke-width="0.1">LSC</text>
<text transform="translate(96.1,445.8) rotate(-45)" font-size="6.2" fill="#1a1a1a" text-anchor="end" stroke="#1a1a1a" stroke-width="0.1">Blasts</text>
<text transform="translate(108.4,445.8) rotate(-45)" font-size="6.2" fill="#1a1a1a" text-anchor="end" stroke="#1a1a1a" stroke-width="0.1">HSPC</text>
<text transform="translate(202.7,337) scale(0.94,1)" font-size="9.9" fill="#111" text-anchor="middle">DPP4/CD26</text>
<text transform="translate(140.9,388.6) rotate(-90) scale(0.893,1)" font-size="8.3" fill="#1a1a1a" stroke="#1a1a1a" stroke-width="0.12" text-anchor="middle">Mean fluorescent intensity</text>
<line x1="178.2" y1="352.7" x2="190.3" y2="417.3" stroke="#b4002a" stroke-width="0.75"/>
<circle cx="178.2" cy="352.7" r="1.05" fill="#b4002a"/>
<circle cx="190.3" cy="417.3" r="1.05" fill="#b4002a"/>
<line x1="178.2" y1="374.5" x2="190.3" y2="418.6" stroke="#b4002a" stroke-width="0.75"/>
<circle cx="178.2" cy="374.5" r="1.05" fill="#b4002a"/>
<circle cx="190.3" cy="418.6" r="1.05" fill="#b4002a"/>
<line x1="178.2" y1="405.7" x2="190.3" y2="419.3" stroke="#b4002a" stroke-width="0.75"/>
<circle cx="178.2" cy="405.7" r="1.05" fill="#b4002a"/>
<circle cx="190.3" cy="419.3" r="1.05" fill="#b4002a"/>
<line x1="178.2" y1="419.9" x2="190.3" y2="421.6" stroke="#b4002a" stroke-width="0.75"/>
<circle cx="178.2" cy="419.9" r="1.05" fill="#b4002a"/>
<circle cx="190.3" cy="421.6" r="1.05" fill="#b4002a"/>
<line x1="178.2" y1="428.7" x2="190.3" y2="423.8" stroke="#b4002a" stroke-width="0.75"/>
<circle cx="178.2" cy="428.7" r="1.05" fill="#b4002a"/>
<circle cx="190.3" cy="423.8" r="1.05" fill="#b4002a"/>
<line x1="202.5" y1="417.6" x2="214.6" y2="414.1" stroke="#1d3c80" stroke-width="0.7"/>
<circle cx="202.5" cy="417.6" r="1.05" fill="#1d3c80"/>
<circle cx="214.6" cy="414.1" r="1.05" fill="#1d3c80"/>
<line x1="202.5" y1="419.5" x2="214.6" y2="419.1" stroke="#1d3c80" stroke-width="0.7"/>
<circle cx="202.5" cy="419.5" r="1.05" fill="#1d3c80"/>
<circle cx="214.6" cy="419.1" r="1.05" fill="#1d3c80"/>
<line x1="202.5" y1="421" x2="214.6" y2="430" stroke="#1d3c80" stroke-width="0.7"/>
<circle cx="202.5" cy="421" r="1.05" fill="#1d3c80"/>
<circle cx="214.6" cy="430" r="1.05" fill="#1d3c80"/>
<line x1="202.5" y1="423.3" x2="214.6" y2="423.1" stroke="#1d3c80" stroke-width="0.7"/>
<circle cx="202.5" cy="423.3" r="1.05" fill="#1d3c80"/>
<circle cx="214.6" cy="423.1" r="1.05" fill="#1d3c80"/>
<line x1="202.5" y1="424.4" x2="214.6" y2="425.2" stroke="#1d3c80" stroke-width="0.7"/>
<circle cx="202.5" cy="424.4" r="1.05" fill="#1d3c80"/>
<circle cx="214.6" cy="425.2" r="1.05" fill="#1d3c80"/>
<line x1="202.5" y1="427.7" x2="214.6" y2="423.1" stroke="#1d3c80" stroke-width="0.7"/>
<circle cx="202.5" cy="427.7" r="1.05" fill="#1d3c80"/>
<circle cx="214.6" cy="423.1" r="1.05" fill="#1d3c80"/>
<line x1="202.5" y1="418.6" x2="214.6" y2="424.2" stroke="#1d3c80" stroke-width="0.7"/>
<circle cx="202.5" cy="418.6" r="1.05" fill="#1d3c80"/>
<circle cx="214.6" cy="424.2" r="1.05" fill="#1d3c80"/>
<polyline points="223.4,425.3 225.3,423.4 226.8,425.2 228.4,424.5 230.1,425.5" fill="none" stroke="#4c9d20" stroke-width="1.25" stroke-linecap="round" stroke-linejoin="round"/>
<line x1="169.4" y1="343.2" x2="169.4" y2="434.1" stroke="#111" stroke-width="1.3"/>
<line x1="168.75" y1="433.6" x2="235" y2="433.6" stroke="#111" stroke-width="1.3"/>
<line x1="178.2" y1="433.6" x2="178.2" y2="437.2" stroke="#111" stroke-width="1.0"/>
<line x1="190.3" y1="433.6" x2="190.3" y2="437.2" stroke="#111" stroke-width="1.0"/>
<line x1="202.5" y1="433.6" x2="202.5" y2="437.2" stroke="#111" stroke-width="1.0"/>
<line x1="214.6" y1="433.6" x2="214.6" y2="437.2" stroke="#111" stroke-width="1.0"/>
<line x1="226.7" y1="433.6" x2="226.7" y2="437.2" stroke="#111" stroke-width="1.0"/>
<line x1="165.6" y1="347" x2="169.4" y2="347" stroke="#111" stroke-width="1.0"/>
<text transform="translate(162.9,349.45) scale(0.93,1)" font-size="7.0" fill="#222" text-anchor="end" stroke="#222" stroke-width="0.08">5000</text>
<line x1="165.6" y1="386.3" x2="169.4" y2="386.3" stroke="#111" stroke-width="1.0"/>
<text transform="translate(162.9,388.75) scale(0.93,1)" font-size="7.0" fill="#222" text-anchor="end" stroke="#222" stroke-width="0.08">2500</text>
<line x1="165.6" y1="425.6" x2="169.4" y2="425.6" stroke="#111" stroke-width="1.0"/>
<text transform="translate(162.9,428.05) scale(0.93,1)" font-size="7.0" fill="#222" text-anchor="end" stroke="#222" stroke-width="0.08">0</text>
<line x1="167.2" y1="366.65" x2="169.4" y2="366.65" stroke="#111" stroke-width="0.9"/>
<line x1="167.2" y1="405.95" x2="169.4" y2="405.95" stroke="#111" stroke-width="0.9"/>
<text transform="translate(181.1,445.9) rotate(-45)" font-size="6.2" fill="#1a1a1a" text-anchor="end" stroke="#1a1a1a" stroke-width="0.1">LSC</text>
<text transform="translate(193.2,445.9) rotate(-45)" font-size="6.2" fill="#1a1a1a" text-anchor="end" stroke="#1a1a1a" stroke-width="0.1">Blasts</text>
<text transform="translate(205.4,445.9) rotate(-45)" font-size="6.2" fill="#1a1a1a" text-anchor="end" stroke="#1a1a1a" stroke-width="0.1">LSC</text>
<text transform="translate(217.5,445.9) rotate(-45)" font-size="6.2" fill="#1a1a1a" text-anchor="end" stroke="#1a1a1a" stroke-width="0.1">Blasts</text>
<text transform="translate(229.6,445.9) rotate(-45)" font-size="6.2" fill="#1a1a1a" text-anchor="end" stroke="#1a1a1a" stroke-width="0.1">HSPC</text>
<text transform="translate(323.6,337.4) scale(0.94,1)" font-size="9.9" fill="#111" text-anchor="middle">IL3RA/CD123</text>
<text transform="translate(262.5,389.2) rotate(-90) scale(0.893,1)" font-size="8.3" fill="#1a1a1a" stroke="#1a1a1a" stroke-width="0.12" text-anchor="middle">Mean fluorescent intensity</text>
<line x1="299.1" y1="350.7" x2="311.2" y2="386.9" stroke="#b4002a" stroke-width="0.75"/>
<circle cx="299.1" cy="350.7" r="1.05" fill="#b4002a"/>
<circle cx="311.2" cy="386.9" r="1.05" fill="#b4002a"/>
<line x1="299.1" y1="350.7" x2="311.2" y2="397.3" stroke="#b4002a" stroke-width="0.75"/>
<circle cx="299.1" cy="350.7" r="1.05" fill="#b4002a"/>
<circle cx="311.2" cy="397.3" r="1.05" fill="#b4002a"/>
<line x1="299.1" y1="368.3" x2="311.2" y2="412.8" stroke="#b4002a" stroke-width="0.75"/>
<circle cx="299.1" cy="368.3" r="1.05" fill="#b4002a"/>
<circle cx="311.2" cy="412.8" r="1.05" fill="#b4002a"/>
<line x1="299.1" y1="393.7" x2="311.2" y2="407.8" stroke="#b4002a" stroke-width="0.75"/>
<circle cx="299.1" cy="393.7" r="1.05" fill="#b4002a"/>
<circle cx="311.2" cy="407.8" r="1.05" fill="#b4002a"/>
<line x1="299.1" y1="420.2" x2="311.2" y2="424.2" stroke="#b4002a" stroke-width="0.75"/>
<circle cx="299.1" cy="420.2" r="1.05" fill="#b4002a"/>
<circle cx="311.2" cy="424.2" r="1.05" fill="#b4002a"/>
<line x1="299.1" y1="422.7" x2="311.2" y2="429" stroke="#b4002a" stroke-width="0.75"/>
<circle cx="299.1" cy="422.7" r="1.05" fill="#b4002a"/>
<circle cx="311.2" cy="429" r="1.05" fill="#b4002a"/>
<line x1="323.4" y1="404.9" x2="335.7" y2="404" stroke="#1d3c80" stroke-width="0.7"/>
<circle cx="323.4" cy="404.9" r="1.05" fill="#1d3c80"/>
<circle cx="335.7" cy="404" r="1.05" fill="#1d3c80"/>
<line x1="323.4" y1="425.5" x2="335.7" y2="414.9" stroke="#1d3c80" stroke-width="0.7"/>
<circle cx="323.4" cy="425.5" r="1.05" fill="#1d3c80"/>
<circle cx="335.7" cy="414.9" r="1.05" fill="#1d3c80"/>
<line x1="323.4" y1="425.5" x2="335.7" y2="431.5" stroke="#1d3c80" stroke-width="0.7"/>
<circle cx="323.4" cy="425.5" r="1.05" fill="#1d3c80"/>
<circle cx="335.7" cy="431.5" r="1.05" fill="#1d3c80"/>
<line x1="323.4" y1="416.8" x2="335.7" y2="427.6" stroke="#1d3c80" stroke-width="0.7"/>
<circle cx="323.4" cy="416.8" r="1.05" fill="#1d3c80"/>
<circle cx="335.7" cy="427.6" r="1.05" fill="#1d3c80"/>
<line x1="323.4" y1="418.8" x2="335.7" y2="416.8" stroke="#1d3c80" stroke-width="0.7"/>
<circle cx="323.4" cy="418.8" r="1.05" fill="#1d3c80"/>
<circle cx="335.7" cy="416.8" r="1.05" fill="#1d3c80"/>
<line x1="323.4" y1="421.8" x2="335.7" y2="422.5" stroke="#1d3c80" stroke-width="0.7"/>
<circle cx="323.4" cy="421.8" r="1.05" fill="#1d3c80"/>
<circle cx="335.7" cy="422.5" r="1.05" fill="#1d3c80"/>
<line x1="323.4" y1="416.8" x2="335.7" y2="418.2" stroke="#1d3c80" stroke-width="0.7"/>
<circle cx="323.4" cy="416.8" r="1.05" fill="#1d3c80"/>
<circle cx="335.7" cy="418.2" r="1.05" fill="#1d3c80"/>
<line x1="323.4" y1="418.8" x2="335.7" y2="423.8" stroke="#1d3c80" stroke-width="0.7"/>
<circle cx="323.4" cy="418.8" r="1.05" fill="#1d3c80"/>
<circle cx="335.7" cy="423.8" r="1.05" fill="#1d3c80"/>
<polyline points="344.7,423.0 346.4,421.4 347.8,423.0 349.3,421.4 351.2,423.0" fill="none" stroke="#4c9d20" stroke-width="1.4" stroke-linecap="round" stroke-linejoin="round"/>
<line x1="291.4" y1="343.5" x2="291.4" y2="434.1" stroke="#111" stroke-width="1.3"/>
<line x1="290.75" y1="433.5" x2="356.3" y2="433.5" stroke="#111" stroke-width="1.3"/>
<line x1="299.1" y1="433.5" x2="299.1" y2="437.2" stroke="#111" stroke-width="1.0"/>
<line x1="311.2" y1="433.5" x2="311.2" y2="437.2" stroke="#111" stroke-width="1.0"/>
<line x1="323.4" y1="433.5" x2="323.4" y2="437.2" stroke="#111" stroke-width="1.0"/>
<line x1="335.7" y1="433.5" x2="335.7" y2="437.2" stroke="#111" stroke-width="1.0"/>
<line x1="347.9" y1="433.5" x2="347.9" y2="437.2" stroke="#111" stroke-width="1.0"/>
<line x1="287.6" y1="347" x2="291.4" y2="347" stroke="#111" stroke-width="1.0"/>
<text transform="translate(284.6,349.45) scale(0.93,1)" font-size="7.0" fill="#222" text-anchor="end" stroke="#222" stroke-width="0.08">1000</text>
<line x1="287.6" y1="390.3" x2="291.4" y2="390.3" stroke="#111" stroke-width="1.0"/>
<text transform="translate(284.6,392.75) scale(0.93,1)" font-size="7.0" fill="#222" text-anchor="end" stroke="#222" stroke-width="0.08">500</text>
<line x1="287.6" y1="433.5" x2="291.4" y2="433.5" stroke="#111" stroke-width="1.0"/>
<text transform="translate(284.6,435.95) scale(0.93,1)" font-size="7.0" fill="#222" text-anchor="end" stroke="#222" stroke-width="0.08">0</text>
<line x1="289.2" y1="368.65" x2="291.4" y2="368.65" stroke="#111" stroke-width="0.9"/>
<line x1="289.2" y1="411.9" x2="291.4" y2="411.9" stroke="#111" stroke-width="0.9"/>
<text transform="translate(302,445.8) rotate(-45)" font-size="6.2" fill="#1a1a1a" text-anchor="end" stroke="#1a1a1a" stroke-width="0.1">LSC</text>
<text transform="translate(314.1,445.8) rotate(-45)" font-size="6.2" fill="#1a1a1a" text-anchor="end" stroke="#1a1a1a" stroke-width="0.1">Blasts</text>
<text transform="translate(326.3,445.8) rotate(-45)" font-size="6.2" fill="#1a1a1a" text-anchor="end" stroke="#1a1a1a" stroke-width="0.1">LSC</text>
<text transform="translate(338.6,445.8) rotate(-45)" font-size="6.2" fill="#1a1a1a" text-anchor="end" stroke="#1a1a1a" stroke-width="0.1">Blasts</text>
<text transform="translate(350.8,445.8) rotate(-45)" font-size="6.2" fill="#1a1a1a" text-anchor="end" stroke="#1a1a1a" stroke-width="0.1">HSPC</text>
<text transform="translate(387.3,388) rotate(-90) scale(0.87,1)" font-size="8.5" fill="#1a1a1a" stroke="#1a1a1a" stroke-width="0.12" text-anchor="middle">Number of colonies</text>
<line x1="416" y1="342.6" x2="449.8" y2="342.6" stroke="#111" stroke-width="1.0"/>
<circle cx="432.9" cy="339.9" r="0.75" fill="#333"/>
<line x1="416" y1="351.9" x2="432" y2="351.9" stroke="#444" stroke-width="1.5"/>
<circle cx="424.1" cy="349.1" r="0.75" fill="#333"/>
<rect x="413.8" y="371.98" width="9" height="61.62" fill="#b0002c"/>
<rect x="429" y="411.44" width="9" height="22.16" fill="#284a8c"/>
<rect x="444.1" y="400.88" width="9" height="32.72" fill="#284a8c"/>
<line x1="418.3" y1="365.3" x2="418.3" y2="377.2" stroke="#111" stroke-width="0.9"/>
<line x1="416" y1="365.3" x2="420.6" y2="365.3" stroke="#111" stroke-width="1.0"/>
<line x1="416" y1="377.2" x2="420.6" y2="377.2" stroke="#111" stroke-width="1.0"/>
<line x1="433.5" y1="401" x2="433.5" y2="420.6" stroke="#111" stroke-width="0.9"/>
<line x1="431.2" y1="401" x2="435.8" y2="401" stroke="#111" stroke-width="1.0"/>
<line x1="431.2" y1="420.6" x2="435.8" y2="420.6" stroke="#111" stroke-width="1.0"/>
<line x1="448.5" y1="394.4" x2="448.5" y2="406.4" stroke="#111" stroke-width="0.9"/>
<line x1="446.2" y1="394.4" x2="450.8" y2="394.4" stroke="#111" stroke-width="1.0"/>
<line x1="446.2" y1="406.4" x2="450.8" y2="406.4" stroke="#111" stroke-width="1.0"/>
<circle cx="418.3" cy="360.7" r="1.95" fill="#fff" stroke="#000" stroke-width="1.1"/>
<circle cx="418.3" cy="370.9" r="1.95" fill="#fff" stroke="#000" stroke-width="1.1"/>
<circle cx="418.3" cy="381.6" r="1.95" fill="#fff" stroke="#000" stroke-width="1.1"/>
<circle cx="433.5" cy="392" r="1.95" fill="#fff" stroke="#000" stroke-width="1.1"/>
<circle cx="433.5" cy="416.3" r="1.95" fill="#fff" stroke="#000" stroke-width="1.1"/>
<circle cx="433.5" cy="423.3" r="1.95" fill="#fff" stroke="#000" stroke-width="1.1"/>
<circle cx="445" cy="392" r="1.95" fill="#fff" stroke="#000" stroke-width="1.1"/>
<circle cx="451.5" cy="395.6" r="1.95" fill="#fff" stroke="#000" stroke-width="1.1"/>
<circle cx="448.5" cy="413" r="1.95" fill="#fff" stroke="#000" stroke-width="1.1"/>
<line x1="408.5" y1="343.4" x2="408.5" y2="434.2" stroke="#111" stroke-width="1.3"/>
<line x1="404.2" y1="433.6" x2="458.6" y2="433.6" stroke="#111" stroke-width="1.3"/>
<line x1="404.5" y1="433.6" x2="408.5" y2="433.6" stroke="#111" stroke-width="1.0"/>
<text transform="translate(401.2,436.05) scale(0.93,1)" font-size="7.0" fill="#222" text-anchor="end" stroke="#222" stroke-width="0.08">0</text>
<line x1="404.5" y1="416.29" x2="408.5" y2="416.29" stroke="#111" stroke-width="1.0"/>
<text transform="translate(401.2,418.74) scale(0.93,1)" font-size="7.0" fill="#222" text-anchor="end" stroke="#222" stroke-width="0.08">5</text>
<line x1="404.5" y1="398.98" x2="408.5" y2="398.98" stroke="#111" stroke-width="1.0"/>
<text transform="translate(401.2,401.43) scale(0.93,1)" font-size="7.0" fill="#222" text-anchor="end" stroke="#222" stroke-width="0.08">10</text>
<line x1="404.5" y1="381.67" x2="408.5" y2="381.67" stroke="#111" stroke-width="1.0"/>
<text transform="translate(401.2,384.12) scale(0.93,1)" font-size="7.0" fill="#222" text-anchor="end" stroke="#222" stroke-width="0.08">15</text>
<line x1="404.5" y1="364.36" x2="408.5" y2="364.36" stroke="#111" stroke-width="1.0"/>
<text transform="translate(401.2,366.81) scale(0.93,1)" font-size="7.0" fill="#222" text-anchor="end" stroke="#222" stroke-width="0.08">20</text>
<line x1="404.5" y1="347.05" x2="408.5" y2="347.05" stroke="#111" stroke-width="1.0"/>
<text transform="translate(401.2,349.5) scale(0.93,1)" font-size="7.0" fill="#222" text-anchor="end" stroke="#222" stroke-width="0.08">25</text>
<line x1="418.3" y1="433.6" x2="418.3" y2="437.3" stroke="#111" stroke-width="1.0"/>
<line x1="433.5" y1="433.6" x2="433.5" y2="437.3" stroke="#111" stroke-width="1.0"/>
<line x1="448.5" y1="433.6" x2="448.5" y2="437.3" stroke="#111" stroke-width="1.0"/>
<text transform="translate(420.7,445.2) rotate(-45)" font-size="5.8" fill="#1a1a1a" text-anchor="end" stroke="#1a1a1a" stroke-width="0.1">shNT</text>
<text transform="translate(435.9,445.2) rotate(-45)" font-size="5.8" fill="#1a1a1a" text-anchor="end" stroke="#1a1a1a" stroke-width="0.1">shCRIP2 #1</text>
<text transform="translate(450.9,445.2) rotate(-45)" font-size="5.8" fill="#1a1a1a" text-anchor="end" stroke="#1a1a1a" stroke-width="0.1">shCRIP2 #2</text>
<line x1="163.8" y1="477.4" x2="174.2" y2="477.4" stroke="#b4002a" stroke-width="0.9"/>
<circle cx="163.9" cy="477.4" r="0.9" fill="#b4002a"/>
<circle cx="174.1" cy="477.4" r="0.9" fill="#b4002a"/>
<line x1="163.8" y1="486.9" x2="174.2" y2="486.9" stroke="#6a86c0" stroke-width="0.9"/>
<circle cx="163.9" cy="486.9" r="0.9" fill="#111"/>
<circle cx="174.1" cy="486.9" r="0.9" fill="#111"/>
<text x="177.7" y="479.3" font-size="5.35" fill="#3a3a3a" text-anchor="start">FLT3-ITD/NPM1-mut</text>
<text x="177.7" y="488.8" font-size="5.35" fill="#3a3a3a" text-anchor="start">FLT3-WT/NPM1-WT</text>
<text x="8.3" y="20" font-size="15.4" fill="#000" text-anchor="start" font-weight="bold">G</text>
<text transform="translate(8.9,329.2) scale(1.07,1)" font-size="14.2" fill="#000" text-anchor="start" font-weight="bold">H</text>
<text transform="translate(379.4,329.2) scale(1.2,1)" font-size="14.2" fill="#000" text-anchor="start" font-weight="bold">I</text>
<rect x="0" y="0" width="520" height="1.4" fill="#000"/>
<rect x="0" y="0" width="1.4" height="499" fill="#000"/>
<rect x="518.3" y="0" width="1.7" height="499" fill="#000"/>
<rect x="0" y="497.3" width="520" height="1.7" fill="#000"/>
</svg>
</body></html>
